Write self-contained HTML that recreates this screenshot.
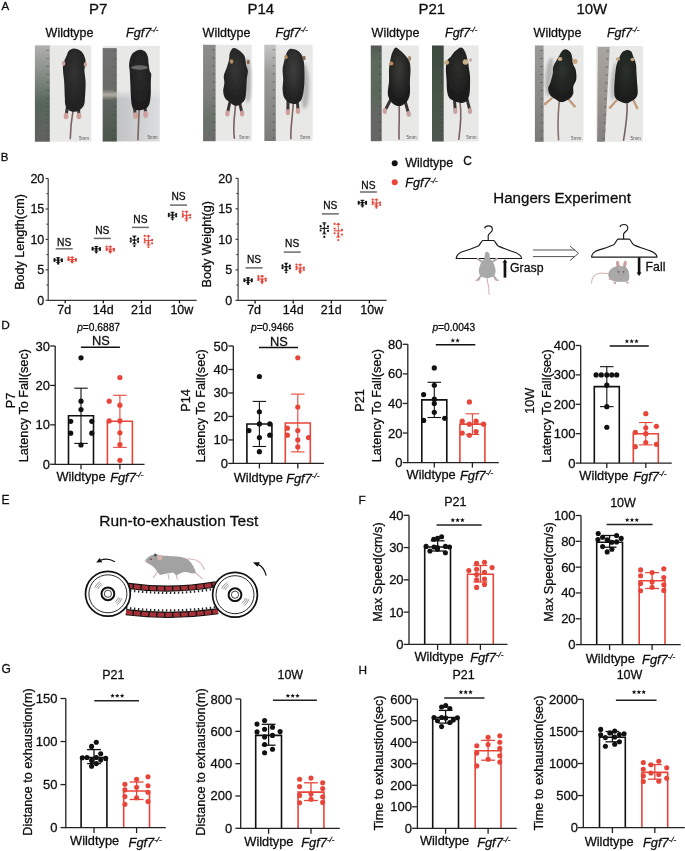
<!DOCTYPE html>
<html><head><meta charset="utf-8"><style>
html,body{margin:0;padding:0;background:#fff;}
svg{display:block;will-change:transform;}
text{font-family:"Liberation Sans",sans-serif;stroke:#0e0e0e;stroke-width:0.28px;}
</style></head><body>
<svg width="685" height="851" viewBox="0 0 685 851" font-family="Liberation Sans, sans-serif">
<rect width="685" height="851" fill="#fff"/>
<defs><filter id="soft" x="-5%" y="-5%" width="110%" height="110%"><feGaussianBlur stdDeviation="0.45"/></filter></defs>
<text x="1.50" y="9.60" font-size="11.5" text-anchor="start" fill="#0e0e0e" style="">A</text>
<text x="98.30" y="14.10" font-size="15" text-anchor="middle" fill="#0e0e0e" style="">P7</text>
<text x="260.80" y="14.10" font-size="15" text-anchor="middle" fill="#0e0e0e" style="">P14</text>
<text x="431.80" y="14.10" font-size="15" text-anchor="middle" fill="#0e0e0e" style="">P21</text>
<text x="591.80" y="14.10" font-size="15" text-anchor="middle" fill="#0e0e0e" style="">10W</text>
<text x="45.60" y="37.00" font-size="12.5" text-anchor="start" fill="#0e0e0e" style="">Wildtype</text>
<text x="126.10" y="37.00" font-size="12.5" text-anchor="start" fill="#0e0e0e" style="font-style:italic">Fgf7<tspan font-size="7.75" dy="-4.75">-/-</tspan></text>
<text x="202.60" y="37.00" font-size="12.5" text-anchor="start" fill="#0e0e0e" style="">Wildtype</text>
<text x="275.50" y="37.00" font-size="12.5" text-anchor="start" fill="#0e0e0e" style="font-style:italic">Fgf7<tspan font-size="7.75" dy="-4.75">-/-</tspan></text>
<text x="371.60" y="37.00" font-size="12.5" text-anchor="start" fill="#0e0e0e" style="">Wildtype</text>
<text x="445.00" y="37.00" font-size="12.5" text-anchor="start" fill="#0e0e0e" style="font-style:italic">Fgf7<tspan font-size="7.75" dy="-4.75">-/-</tspan></text>
<text x="533.60" y="37.00" font-size="12.5" text-anchor="start" fill="#0e0e0e" style="">Wildtype</text>
<text x="606.90" y="37.00" font-size="12.5" text-anchor="start" fill="#0e0e0e" style="font-style:italic">Fgf7<tspan font-size="7.75" dy="-4.75">-/-</tspan></text>
<defs><linearGradient id="g34" x1="0" y1="0" x2="0" y2="1"><stop offset="0" stop-color="#b0b0ae"/><stop offset="0.35" stop-color="#7d867e"/><stop offset="0.6" stop-color="#56665a"/><stop offset="1" stop-color="#62625f"/></linearGradient><linearGradient id="sg34" x1="0" y1="0" x2="1" y2="0"><stop offset="0" stop-color="#b9babc"/><stop offset="1" stop-color="#dcdddf"/></linearGradient><filter id="fg34" x="-50%" y="-50%" width="200%" height="200%"><feGaussianBlur stdDeviation="1.6"/></filter></defs>
<g filter="url(#soft)">
<rect x="34.90" y="45.40" width="56.40" height="96.30" fill="#e8e8e6"/>
<rect x="34.90" y="45.40" width="14.90" height="96.30" fill="url(#g34)"/>
<line x1="46.60" y1="50.40" x2="49.00" y2="50.40" stroke="#3a3a3a" stroke-width="0.5"/>
<line x1="46.60" y1="58.43" x2="49.00" y2="58.43" stroke="#3a3a3a" stroke-width="0.5"/>
<line x1="46.60" y1="66.45" x2="49.00" y2="66.45" stroke="#3a3a3a" stroke-width="0.5"/>
<line x1="46.60" y1="74.48" x2="49.00" y2="74.48" stroke="#3a3a3a" stroke-width="0.5"/>
<line x1="46.60" y1="82.51" x2="49.00" y2="82.51" stroke="#3a3a3a" stroke-width="0.5"/>
<line x1="46.60" y1="90.54" x2="49.00" y2="90.54" stroke="#3a3a3a" stroke-width="0.5"/>
<line x1="46.60" y1="98.56" x2="49.00" y2="98.56" stroke="#3a3a3a" stroke-width="0.5"/>
<line x1="46.60" y1="106.59" x2="49.00" y2="106.59" stroke="#3a3a3a" stroke-width="0.5"/>
<line x1="46.60" y1="114.62" x2="49.00" y2="114.62" stroke="#3a3a3a" stroke-width="0.5"/>
<line x1="46.60" y1="122.65" x2="49.00" y2="122.65" stroke="#3a3a3a" stroke-width="0.5"/>
<line x1="46.60" y1="130.67" x2="49.00" y2="130.67" stroke="#3a3a3a" stroke-width="0.5"/>
<line x1="46.60" y1="138.70" x2="49.00" y2="138.70" stroke="#3a3a3a" stroke-width="0.5"/>
<path d="M73.00 111.00 Q70.60 124.00 70.30 138.60" fill="none" stroke="#7a6260" stroke-width="1.6" stroke-linecap="round"/>
<path d="M67.50 106.00 L66.10 116.00" stroke="#3b3333" stroke-width="3" stroke-linecap="round"/>
<ellipse cx="66.10" cy="116.00" rx="2.4" ry="3.2" fill="#cf9f9c"/>
<path d="M78.50 106.00 L78.90 116.00" stroke="#3b3333" stroke-width="3" stroke-linecap="round"/>
<ellipse cx="78.90" cy="116.00" rx="2.4" ry="3.2" fill="#cf9f9c"/>
<defs><radialGradient id="rg34" cx="0.5" cy="0.38" r="0.55"><stop offset="0" stop-color="#333333"/><stop offset="1" stop-color="#222222"/></radialGradient></defs>
<path d="M74.00 48.40 C76.03 48.50 79.47 49.62 81.30 51.20 C83.13 52.78 84.28 55.67 85.00 57.90 C85.72 60.13 85.70 62.57 85.60 64.60 C85.50 66.63 84.40 67.15 84.40 70.10 C84.40 73.05 85.50 77.82 85.60 82.30 C85.70 86.78 85.30 93.12 85.00 97.00 C84.70 100.88 84.82 103.35 83.80 105.60 C82.78 107.85 80.53 109.48 78.90 110.50 C77.27 111.52 75.63 111.70 74.00 111.70 C72.37 111.70 70.52 111.52 69.10 110.50 C67.68 109.48 66.22 107.85 65.50 105.60 C64.78 103.35 65.02 100.88 64.80 97.00 C64.58 93.12 64.50 86.78 64.20 82.30 C63.90 77.82 63.12 73.32 63.00 70.10 C62.88 66.88 62.88 65.45 63.50 63.00 C64.12 60.55 65.77 57.47 66.70 55.40 C67.63 53.33 67.88 51.77 69.10 50.60 C70.32 49.43 71.97 48.30 74.00 48.40 Z" fill="url(#rg34)"/>
<ellipse cx="63.60" cy="63.50" rx="1.8" ry="2.4" fill="#caa09a"/>
<ellipse cx="85.40" cy="64.50" rx="1.7" ry="2.3" fill="#caa09a"/>
<text x="89.10" y="139.50" font-size="4.6" text-anchor="end" fill="#555" style="stroke:none">5mm</text>
</g>
<defs><linearGradient id="g102" x1="0" y1="0" x2="0" y2="1"><stop offset="0" stop-color="#727272"/><stop offset="0.44" stop-color="#6a6a66"/><stop offset="0.5" stop-color="#b0aea4"/><stop offset="0.56" stop-color="#5e645e"/><stop offset="1" stop-color="#4c574c"/></linearGradient><linearGradient id="sg102" x1="0" y1="0" x2="1" y2="0"><stop offset="0" stop-color="#b9babc"/><stop offset="1" stop-color="#dcdddf"/></linearGradient><filter id="fg102" x="-50%" y="-50%" width="200%" height="200%"><feGaussianBlur stdDeviation="1.6"/></filter></defs>
<g filter="url(#soft)">
<rect x="102.70" y="45.80" width="57.10" height="95.70" fill="#e8e8e6"/>
<defs><linearGradient id="vg102" x1="0" y1="0" x2="0" y2="1"><stop offset="0" stop-color="#fff" stop-opacity="0"/><stop offset="0.18" stop-color="#fff" stop-opacity="1"/><stop offset="1" stop-color="#fff" stop-opacity="1"/></linearGradient><mask id="mg102"><rect x="102.70" y="89.82" width="57.10" height="51.68" fill="url(#vg102)"/></mask></defs>
<rect x="102.70" y="89.82" width="57.10" height="51.68" fill="url(#sg102)" mask="url(#mg102)"/>
<rect x="102.70" y="48.10" width="14.10" height="93.40" fill="url(#g102)"/>
<line x1="113.60" y1="50.80" x2="116.00" y2="50.80" stroke="#3a3a3a" stroke-width="0.5"/>
<line x1="113.60" y1="58.77" x2="116.00" y2="58.77" stroke="#3a3a3a" stroke-width="0.5"/>
<line x1="113.60" y1="66.75" x2="116.00" y2="66.75" stroke="#3a3a3a" stroke-width="0.5"/>
<line x1="113.60" y1="74.72" x2="116.00" y2="74.72" stroke="#3a3a3a" stroke-width="0.5"/>
<line x1="113.60" y1="82.69" x2="116.00" y2="82.69" stroke="#3a3a3a" stroke-width="0.5"/>
<line x1="113.60" y1="90.66" x2="116.00" y2="90.66" stroke="#3a3a3a" stroke-width="0.5"/>
<line x1="113.60" y1="98.64" x2="116.00" y2="98.64" stroke="#3a3a3a" stroke-width="0.5"/>
<line x1="113.60" y1="106.61" x2="116.00" y2="106.61" stroke="#3a3a3a" stroke-width="0.5"/>
<line x1="113.60" y1="114.58" x2="116.00" y2="114.58" stroke="#3a3a3a" stroke-width="0.5"/>
<line x1="113.60" y1="122.55" x2="116.00" y2="122.55" stroke="#3a3a3a" stroke-width="0.5"/>
<line x1="113.60" y1="130.53" x2="116.00" y2="130.53" stroke="#3a3a3a" stroke-width="0.5"/>
<line x1="113.60" y1="138.50" x2="116.00" y2="138.50" stroke="#3a3a3a" stroke-width="0.5"/>
<path d="M139.10 110.00 Q138.50 124.00 137.90 139.70" fill="none" stroke="#7a6260" stroke-width="1.6" stroke-linecap="round"/>
<path d="M134.00 106.00 L135.60 115.60" stroke="#3b3333" stroke-width="3" stroke-linecap="round"/>
<ellipse cx="135.60" cy="115.60" rx="2.4" ry="3.4" fill="#cf9f9c"/>
<path d="M145.00 106.00 L145.60 114.50" stroke="#3b3333" stroke-width="3" stroke-linecap="round"/>
<ellipse cx="145.60" cy="114.50" rx="2.4" ry="3.4" fill="#cf9f9c"/>
<defs><radialGradient id="rg102" cx="0.5" cy="0.38" r="0.55"><stop offset="0" stop-color="#2c2c2c"/><stop offset="1" stop-color="#1e1e1e"/></radialGradient></defs>
<path d="M139.10 49.90 C141.07 49.70 143.53 50.43 145.00 51.60 C146.47 52.77 147.32 55.03 147.90 56.90 C148.48 58.77 148.20 60.45 148.50 62.80 C148.80 65.15 149.25 69.13 149.70 71.00 C150.15 72.87 151.02 72.03 151.20 74.00 C151.38 75.97 150.87 79.58 150.80 82.80 C150.73 86.02 150.98 89.98 150.80 93.30 C150.62 96.62 150.28 100.35 149.70 102.70 C149.12 105.05 148.48 106.22 147.30 107.40 C146.12 108.58 143.97 109.32 142.60 109.80 C141.23 110.28 140.27 110.30 139.10 110.30 C137.93 110.30 136.77 110.48 135.60 109.80 C134.43 109.12 132.88 108.37 132.10 106.20 C131.32 104.03 131.20 100.70 130.90 96.80 C130.60 92.90 130.50 87.10 130.30 82.80 C130.10 78.50 129.90 73.95 129.70 71.00 C129.50 68.05 129.00 67.25 129.10 65.10 C129.20 62.95 129.62 60.15 130.30 58.10 C130.98 56.05 131.73 54.17 133.20 52.80 C134.67 51.43 137.13 50.10 139.10 49.90 Z" fill="url(#rg102)"/>
<ellipse cx="139.50" cy="67.50" rx="8.50" ry="2.2" fill="#9a9692" opacity="0.6"/>
<text x="157.60" y="139.30" font-size="4.6" text-anchor="end" fill="#555" style="stroke:none">5mm</text>
</g>
<defs><linearGradient id="g203" x1="0" y1="0" x2="0" y2="1"><stop offset="0" stop-color="#8c8c8a"/><stop offset="0.5" stop-color="#7e7e7c"/><stop offset="0.75" stop-color="#6a726a"/><stop offset="1" stop-color="#6c6c6a"/></linearGradient><linearGradient id="sg203" x1="0" y1="0" x2="1" y2="0"><stop offset="0" stop-color="#b9babc"/><stop offset="1" stop-color="#dcdddf"/></linearGradient><filter id="fg203" x="-50%" y="-50%" width="200%" height="200%"><feGaussianBlur stdDeviation="1.6"/></filter></defs>
<g filter="url(#soft)">
<rect x="203.10" y="44.80" width="48.60" height="96.40" fill="#e8e8e6"/>
<rect x="203.10" y="44.80" width="12.50" height="96.40" fill="url(#g203)"/>
<line x1="212.40" y1="49.80" x2="214.80" y2="49.80" stroke="#3a3a3a" stroke-width="0.5"/>
<line x1="212.40" y1="57.84" x2="214.80" y2="57.84" stroke="#3a3a3a" stroke-width="0.5"/>
<line x1="212.40" y1="65.87" x2="214.80" y2="65.87" stroke="#3a3a3a" stroke-width="0.5"/>
<line x1="212.40" y1="73.91" x2="214.80" y2="73.91" stroke="#3a3a3a" stroke-width="0.5"/>
<line x1="212.40" y1="81.95" x2="214.80" y2="81.95" stroke="#3a3a3a" stroke-width="0.5"/>
<line x1="212.40" y1="89.98" x2="214.80" y2="89.98" stroke="#3a3a3a" stroke-width="0.5"/>
<line x1="212.40" y1="98.02" x2="214.80" y2="98.02" stroke="#3a3a3a" stroke-width="0.5"/>
<line x1="212.40" y1="106.05" x2="214.80" y2="106.05" stroke="#3a3a3a" stroke-width="0.5"/>
<line x1="212.40" y1="114.09" x2="214.80" y2="114.09" stroke="#3a3a3a" stroke-width="0.5"/>
<line x1="212.40" y1="122.13" x2="214.80" y2="122.13" stroke="#3a3a3a" stroke-width="0.5"/>
<line x1="212.40" y1="130.16" x2="214.80" y2="130.16" stroke="#3a3a3a" stroke-width="0.5"/>
<line x1="212.40" y1="138.20" x2="214.80" y2="138.20" stroke="#3a3a3a" stroke-width="0.5"/>
<path d="M246.00 60.00 C246.67 54.17 249.17 61.67 250.00 65.00 C250.83 68.33 251.00 74.50 251.00 80.00 C251.00 85.50 250.83 94.67 250.00 98.00 C249.17 101.33 246.67 106.33 246.00 100.00 C245.33 93.67 245.33 65.83 246.00 60.00 Z" fill="#b4b4b4" filter="url(#fg203)"/>
<path d="M235.60 105.00 C234.40 117.00 232.60 128.70 234.40 138.10" fill="none" stroke="#7a6260" stroke-width="1.6" stroke-linecap="round"/>
<path d="M229.70 103.00 L227.40 113.40" stroke="#3b3333" stroke-width="3" stroke-linecap="round"/>
<ellipse cx="227.40" cy="113.40" rx="2.2" ry="3" fill="#cf9f9c"/>
<path d="M239.70 103.00 L242.10 113.40" stroke="#3b3333" stroke-width="3" stroke-linecap="round"/>
<ellipse cx="242.10" cy="113.40" rx="2.2" ry="3" fill="#cf9f9c"/>
<defs><radialGradient id="rg203" cx="0.5" cy="0.38" r="0.55"><stop offset="0" stop-color="#363636"/><stop offset="1" stop-color="#202020"/></radialGradient></defs>
<path d="M233.20 48.10 C234.67 47.52 236.63 48.62 238.50 49.90 C240.37 51.18 243.12 53.25 244.40 55.80 C245.68 58.35 245.62 62.65 246.20 65.20 C246.78 67.75 247.80 68.75 247.90 71.10 C248.00 73.45 247.08 75.97 246.80 79.30 C246.52 82.63 246.50 87.77 246.20 91.10 C245.90 94.43 245.88 97.15 245.00 99.30 C244.12 101.45 242.47 102.92 240.90 104.00 C239.33 105.08 237.37 106.00 235.60 105.80 C233.83 105.60 232.07 104.08 230.30 102.80 C228.53 101.52 226.18 100.05 225.00 98.10 C223.82 96.15 223.30 93.65 223.20 91.10 C223.10 88.55 224.30 85.35 224.40 82.80 C224.50 80.25 223.40 78.35 223.80 75.80 C224.20 73.25 225.92 70.25 226.80 67.50 C227.68 64.75 228.62 61.65 229.10 59.30 C229.58 56.95 229.02 55.27 229.70 53.40 C230.38 51.53 231.73 48.68 233.20 48.10 Z" fill="url(#rg203)"/>
<ellipse cx="231.50" cy="61.50" rx="1.8" ry="2.2" fill="#b78c5e"/>
<ellipse cx="248.30" cy="62.00" rx="1.6" ry="2.2" fill="#8a6a58"/>
<text x="249.50" y="139.00" font-size="4.6" text-anchor="end" fill="#555" style="stroke:none">5mm</text>
</g>
<defs><linearGradient id="g264" x1="0" y1="0" x2="0" y2="1"><stop offset="0" stop-color="#c4c4c2"/><stop offset="0.3" stop-color="#9a9a98"/><stop offset="1" stop-color="#7a7a78"/></linearGradient><linearGradient id="sg264" x1="0" y1="0" x2="1" y2="0"><stop offset="0" stop-color="#b9babc"/><stop offset="1" stop-color="#dcdddf"/></linearGradient><filter id="fg264" x="-50%" y="-50%" width="200%" height="200%"><feGaussianBlur stdDeviation="1.6"/></filter></defs>
<g filter="url(#soft)">
<rect x="264.40" y="44.80" width="48.20" height="96.20" fill="#e8e8e6"/>
<rect x="264.40" y="44.80" width="11.40" height="96.20" fill="url(#g264)"/>
<line x1="272.60" y1="49.80" x2="275.00" y2="49.80" stroke="#3a3a3a" stroke-width="0.5"/>
<line x1="272.60" y1="57.82" x2="275.00" y2="57.82" stroke="#3a3a3a" stroke-width="0.5"/>
<line x1="272.60" y1="65.84" x2="275.00" y2="65.84" stroke="#3a3a3a" stroke-width="0.5"/>
<line x1="272.60" y1="73.85" x2="275.00" y2="73.85" stroke="#3a3a3a" stroke-width="0.5"/>
<line x1="272.60" y1="81.87" x2="275.00" y2="81.87" stroke="#3a3a3a" stroke-width="0.5"/>
<line x1="272.60" y1="89.89" x2="275.00" y2="89.89" stroke="#3a3a3a" stroke-width="0.5"/>
<line x1="272.60" y1="97.91" x2="275.00" y2="97.91" stroke="#3a3a3a" stroke-width="0.5"/>
<line x1="272.60" y1="105.93" x2="275.00" y2="105.93" stroke="#3a3a3a" stroke-width="0.5"/>
<line x1="272.60" y1="113.95" x2="275.00" y2="113.95" stroke="#3a3a3a" stroke-width="0.5"/>
<line x1="272.60" y1="121.96" x2="275.00" y2="121.96" stroke="#3a3a3a" stroke-width="0.5"/>
<line x1="272.60" y1="129.98" x2="275.00" y2="129.98" stroke="#3a3a3a" stroke-width="0.5"/>
<line x1="272.60" y1="138.00" x2="275.00" y2="138.00" stroke="#3a3a3a" stroke-width="0.5"/>
<path d="M303.00 65.00 C304.00 59.67 307.00 67.83 308.00 72.00 C309.00 76.17 309.17 84.33 309.00 90.00 C308.83 95.67 308.17 103.67 307.00 106.00 C305.83 108.33 302.67 110.83 302.00 104.00 C301.33 97.17 302.00 70.33 303.00 65.00 Z" fill="#b4b4b4" filter="url(#fg264)"/>
<path d="M293.20 103.50 C292.60 117.00 290.30 128.70 290.90 138.70" fill="none" stroke="#7a6260" stroke-width="1.6" stroke-linecap="round"/>
<path d="M288.00 101.00 L287.90 112.20" stroke="#3b3333" stroke-width="3" stroke-linecap="round"/>
<ellipse cx="287.90" cy="112.20" rx="2.2" ry="3" fill="#cf9f9c"/>
<path d="M297.40 101.00 L298.00 111.00" stroke="#3b3333" stroke-width="3" stroke-linecap="round"/>
<ellipse cx="298.00" cy="111.00" rx="2.2" ry="3" fill="#cf9f9c"/>
<defs><radialGradient id="rg264" cx="0.5" cy="0.38" r="0.55"><stop offset="0" stop-color="#3e3e3e"/><stop offset="1" stop-color="#222222"/></radialGradient></defs>
<path d="M291.50 48.70 C292.98 48.80 295.73 49.52 297.40 50.50 C299.07 51.48 300.43 52.75 301.50 54.60 C302.57 56.45 303.32 58.85 303.80 61.60 C304.28 64.35 304.30 67.57 304.40 71.10 C304.50 74.63 304.60 79.08 304.40 82.80 C304.20 86.52 303.78 90.45 303.20 93.40 C302.62 96.35 301.97 98.83 300.90 100.50 C299.83 102.17 298.08 102.82 296.80 103.40 C295.52 103.98 294.48 104.10 293.20 104.00 C291.92 103.90 290.57 103.78 289.10 102.80 C287.63 101.82 285.48 100.25 284.40 98.10 C283.32 95.95 282.80 93.03 282.60 89.90 C282.40 86.77 283.20 82.63 283.20 79.30 C283.20 75.97 282.50 72.65 282.60 69.90 C282.70 67.15 283.20 65.45 283.80 62.80 C284.40 60.15 285.42 56.15 286.20 54.00 C286.98 51.85 287.62 50.78 288.50 49.90 C289.38 49.02 290.02 48.60 291.50 48.70 Z" fill="url(#rg264)"/>
<ellipse cx="286.00" cy="57.00" rx="1.8" ry="2" fill="#b78c5e"/>
<ellipse cx="304.00" cy="58.00" rx="1.7" ry="2.2" fill="#8a6a58"/>
<text x="310.40" y="138.80" font-size="4.6" text-anchor="end" fill="#555" style="stroke:none">5mm</text>
</g>
<defs><linearGradient id="g370" x1="0" y1="0" x2="0" y2="1"><stop offset="0" stop-color="#545955"/><stop offset="0.15" stop-color="#5b6a5c"/><stop offset="0.5" stop-color="#5a685b"/><stop offset="0.7" stop-color="#646664"/><stop offset="1" stop-color="#666"/></linearGradient><linearGradient id="sg370" x1="0" y1="0" x2="1" y2="0"><stop offset="0" stop-color="#b9babc"/><stop offset="1" stop-color="#dcdddf"/></linearGradient><filter id="fg370" x="-50%" y="-50%" width="200%" height="200%"><feGaussianBlur stdDeviation="1.6"/></filter></defs>
<g filter="url(#soft)">
<rect x="370.80" y="45.50" width="48.10" height="95.70" fill="#e8e8e6"/>
<rect x="370.80" y="45.50" width="10.90" height="95.70" fill="url(#g370)"/>
<line x1="378.50" y1="50.50" x2="380.90" y2="50.50" stroke="#3a3a3a" stroke-width="0.5"/>
<line x1="378.50" y1="58.47" x2="380.90" y2="58.47" stroke="#3a3a3a" stroke-width="0.5"/>
<line x1="378.50" y1="66.45" x2="380.90" y2="66.45" stroke="#3a3a3a" stroke-width="0.5"/>
<line x1="378.50" y1="74.42" x2="380.90" y2="74.42" stroke="#3a3a3a" stroke-width="0.5"/>
<line x1="378.50" y1="82.39" x2="380.90" y2="82.39" stroke="#3a3a3a" stroke-width="0.5"/>
<line x1="378.50" y1="90.36" x2="380.90" y2="90.36" stroke="#3a3a3a" stroke-width="0.5"/>
<line x1="378.50" y1="98.34" x2="380.90" y2="98.34" stroke="#3a3a3a" stroke-width="0.5"/>
<line x1="378.50" y1="106.31" x2="380.90" y2="106.31" stroke="#3a3a3a" stroke-width="0.5"/>
<line x1="378.50" y1="114.28" x2="380.90" y2="114.28" stroke="#3a3a3a" stroke-width="0.5"/>
<line x1="378.50" y1="122.25" x2="380.90" y2="122.25" stroke="#3a3a3a" stroke-width="0.5"/>
<line x1="378.50" y1="130.23" x2="380.90" y2="130.23" stroke="#3a3a3a" stroke-width="0.5"/>
<line x1="378.50" y1="138.20" x2="380.90" y2="138.20" stroke="#3a3a3a" stroke-width="0.5"/>
<path d="M399.10 105.50 C399.70 119.80 398.50 131.80 399.10 139.00" fill="none" stroke="#7a6260" stroke-width="1.6" stroke-linecap="round"/>
<path d="M390.50 100.00 L384.80 110.90" stroke="#3b3333" stroke-width="3" stroke-linecap="round"/>
<ellipse cx="384.80" cy="110.90" rx="2.2" ry="3" fill="#c8a4a0"/>
<path d="M405.00 101.00 L408.70 113.90" stroke="#3b3333" stroke-width="3" stroke-linecap="round"/>
<ellipse cx="408.70" cy="113.90" rx="2.2" ry="3" fill="#c8a4a0"/>
<defs><radialGradient id="rg370" cx="0.5" cy="0.38" r="0.55"><stop offset="0" stop-color="#3a3a36"/><stop offset="1" stop-color="#1c1c1c"/></radialGradient></defs>
<path d="M396.10 47.40 C397.30 47.60 399.40 49.70 400.90 51.00 C402.40 52.30 403.70 53.50 405.10 55.20 C406.50 56.90 408.40 58.82 409.30 61.20 C410.20 63.58 410.40 66.12 410.50 69.50 C410.60 72.88 410.00 77.50 409.90 81.50 C409.80 85.50 410.30 90.30 409.90 93.50 C409.50 96.70 408.70 98.80 407.50 100.70 C406.30 102.60 404.10 104.00 402.70 104.90 C401.30 105.80 400.40 106.10 399.10 106.10 C397.80 106.10 396.38 105.80 394.90 104.90 C393.42 104.00 391.38 102.60 390.20 100.70 C389.02 98.80 388.00 96.70 387.80 93.50 C387.60 90.30 388.80 85.50 389.00 81.50 C389.20 77.50 388.83 72.67 389.00 69.50 C389.17 66.33 389.60 64.88 390.00 62.50 C390.40 60.12 390.78 57.32 391.40 55.20 C392.02 53.08 392.92 51.10 393.70 49.80 C394.48 48.50 394.90 47.20 396.10 47.40 Z" fill="url(#rg370)"/>
<ellipse cx="391.30" cy="63.50" rx="2" ry="2" fill="#b78c5e"/>
<ellipse cx="409.60" cy="58.50" rx="1.6" ry="2.4" fill="#a88a70"/>
<text x="416.70" y="139.00" font-size="4.6" text-anchor="end" fill="#555" style="stroke:none">5mm</text>
</g>
<defs><linearGradient id="g432" x1="0" y1="0" x2="0" y2="1"><stop offset="0" stop-color="#3e4a40"/><stop offset="0.5" stop-color="#465446"/><stop offset="1" stop-color="#505850"/></linearGradient><linearGradient id="sg432" x1="0" y1="0" x2="1" y2="0"><stop offset="0" stop-color="#b9babc"/><stop offset="1" stop-color="#dcdddf"/></linearGradient><filter id="fg432" x="-50%" y="-50%" width="200%" height="200%"><feGaussianBlur stdDeviation="1.6"/></filter></defs>
<g filter="url(#soft)">
<rect x="432.00" y="45.50" width="46.70" height="96.00" fill="#e8e8e6"/>
<rect x="432.00" y="45.50" width="11.70" height="96.00" fill="url(#g432)"/>
<line x1="440.50" y1="50.50" x2="442.90" y2="50.50" stroke="#3a3a3a" stroke-width="0.5"/>
<line x1="440.50" y1="58.50" x2="442.90" y2="58.50" stroke="#3a3a3a" stroke-width="0.5"/>
<line x1="440.50" y1="66.50" x2="442.90" y2="66.50" stroke="#3a3a3a" stroke-width="0.5"/>
<line x1="440.50" y1="74.50" x2="442.90" y2="74.50" stroke="#3a3a3a" stroke-width="0.5"/>
<line x1="440.50" y1="82.50" x2="442.90" y2="82.50" stroke="#3a3a3a" stroke-width="0.5"/>
<line x1="440.50" y1="90.50" x2="442.90" y2="90.50" stroke="#3a3a3a" stroke-width="0.5"/>
<line x1="440.50" y1="98.50" x2="442.90" y2="98.50" stroke="#3a3a3a" stroke-width="0.5"/>
<line x1="440.50" y1="106.50" x2="442.90" y2="106.50" stroke="#3a3a3a" stroke-width="0.5"/>
<line x1="440.50" y1="114.50" x2="442.90" y2="114.50" stroke="#3a3a3a" stroke-width="0.5"/>
<line x1="440.50" y1="122.50" x2="442.90" y2="122.50" stroke="#3a3a3a" stroke-width="0.5"/>
<line x1="440.50" y1="130.50" x2="442.90" y2="130.50" stroke="#3a3a3a" stroke-width="0.5"/>
<line x1="440.50" y1="138.50" x2="442.90" y2="138.50" stroke="#3a3a3a" stroke-width="0.5"/>
<path d="M460.00 102.50 C461.80 114.60 460.60 126.40 458.80 139.30" fill="none" stroke="#7a6260" stroke-width="1.6" stroke-linecap="round"/>
<path d="M454.50 100.00 L455.30 111.00" stroke="#3b3333" stroke-width="3" stroke-linecap="round"/>
<ellipse cx="455.30" cy="111.00" rx="2.2" ry="3" fill="#c8a4a0"/>
<path d="M467.00 99.00 L470.00 111.00" stroke="#3b3333" stroke-width="3" stroke-linecap="round"/>
<ellipse cx="470.00" cy="111.00" rx="2.2" ry="3" fill="#c8a4a0"/>
<defs><radialGradient id="rg432" cx="0.5" cy="0.38" r="0.55"><stop offset="0" stop-color="#2e2e2c"/><stop offset="1" stop-color="#1c1c1c"/></radialGradient></defs>
<path d="M461.20 47.50 C462.87 47.68 464.13 49.65 465.30 52.20 C466.47 54.75 467.62 60.25 468.20 62.80 C468.78 65.35 468.50 65.33 468.80 67.50 C469.10 69.67 469.80 72.65 470.00 75.80 C470.20 78.95 470.10 83.27 470.00 86.40 C469.90 89.53 469.88 92.25 469.40 94.60 C468.92 96.95 468.18 99.13 467.10 100.50 C466.02 101.87 464.08 102.42 462.90 102.80 C461.72 103.18 461.27 103.00 460.00 102.80 C458.73 102.60 457.07 102.38 455.30 101.60 C453.53 100.82 450.77 99.85 449.40 98.10 C448.03 96.35 447.58 94.23 447.10 91.10 C446.62 87.97 446.70 83.23 446.50 79.30 C446.30 75.37 445.73 70.72 445.90 67.50 C446.07 64.28 446.72 61.77 447.50 60.00 C448.28 58.23 449.30 58.38 450.60 56.90 C451.90 55.42 453.53 52.67 455.30 51.10 C457.07 49.53 459.53 47.32 461.20 47.50 Z" fill="url(#rg432)"/>
<ellipse cx="465.50" cy="62.00" rx="2.8" ry="2.8" fill="#c8b08c"/>
<ellipse cx="446.50" cy="62.50" rx="2.6" ry="2.2" fill="#c8b08c"/>
<ellipse cx="470.50" cy="60.00" rx="1.4" ry="1.8" fill="#caa09a"/>
<text x="476.50" y="139.30" font-size="4.6" text-anchor="end" fill="#555" style="stroke:none">5mm</text>
</g>
<defs><linearGradient id="g534" x1="0" y1="0" x2="0" y2="1"><stop offset="0" stop-color="#9a9a98"/><stop offset="0.5" stop-color="#8a8a88"/><stop offset="1" stop-color="#7a7a78"/></linearGradient><linearGradient id="sg534" x1="0" y1="0" x2="1" y2="0"><stop offset="0" stop-color="#b9babc"/><stop offset="1" stop-color="#dcdddf"/></linearGradient><filter id="fg534" x="-50%" y="-50%" width="200%" height="200%"><feGaussianBlur stdDeviation="1.6"/></filter></defs>
<g filter="url(#soft)">
<rect x="534.90" y="45.50" width="48.60" height="96.30" fill="#e8e8e6"/>
<rect x="534.90" y="45.50" width="8.70" height="96.30" fill="url(#g534)"/>
<line x1="540.40" y1="50.50" x2="542.80" y2="50.50" stroke="#3a3a3a" stroke-width="0.5"/>
<line x1="540.40" y1="58.53" x2="542.80" y2="58.53" stroke="#3a3a3a" stroke-width="0.5"/>
<line x1="540.40" y1="66.55" x2="542.80" y2="66.55" stroke="#3a3a3a" stroke-width="0.5"/>
<line x1="540.40" y1="74.58" x2="542.80" y2="74.58" stroke="#3a3a3a" stroke-width="0.5"/>
<line x1="540.40" y1="82.61" x2="542.80" y2="82.61" stroke="#3a3a3a" stroke-width="0.5"/>
<line x1="540.40" y1="90.64" x2="542.80" y2="90.64" stroke="#3a3a3a" stroke-width="0.5"/>
<line x1="540.40" y1="98.66" x2="542.80" y2="98.66" stroke="#3a3a3a" stroke-width="0.5"/>
<line x1="540.40" y1="106.69" x2="542.80" y2="106.69" stroke="#3a3a3a" stroke-width="0.5"/>
<line x1="540.40" y1="114.72" x2="542.80" y2="114.72" stroke="#3a3a3a" stroke-width="0.5"/>
<line x1="540.40" y1="122.75" x2="542.80" y2="122.75" stroke="#3a3a3a" stroke-width="0.5"/>
<line x1="540.40" y1="130.77" x2="542.80" y2="130.77" stroke="#3a3a3a" stroke-width="0.5"/>
<line x1="540.40" y1="138.80" x2="542.80" y2="138.80" stroke="#3a3a3a" stroke-width="0.5"/>
<path d="M548.00 62.00 C549.33 58.67 552.50 55.33 553.00 60.00 C553.50 64.67 552.00 84.00 551.00 90.00 C550.00 96.00 548.00 97.67 547.00 96.00 C546.00 94.33 544.83 85.67 545.00 80.00 C545.17 74.33 546.67 65.33 548.00 62.00 Z" fill="#b4b4b4" filter="url(#fg534)"/>
<path d="M559.20 101.50 C558.00 114.40 557.50 126.20 558.60 139.70" fill="none" stroke="#8a706a" stroke-width="1.6" stroke-linecap="round"/>
<path d="M551.60 98.50 L545.20 103.90" stroke="#c09878" stroke-width="2.2" stroke-linecap="round"/>
<ellipse cx="545.20" cy="103.90" rx="1.4" ry="1.4" fill="#c8a080"/>
<path d="M568.00 98.50 L574.50 106.20" stroke="#c09878" stroke-width="2.2" stroke-linecap="round"/>
<ellipse cx="574.50" cy="106.20" rx="1.4" ry="1.4" fill="#c8a080"/>
<defs><radialGradient id="rg534" cx="0.5" cy="0.38" r="0.55"><stop offset="0" stop-color="#2e332e"/><stop offset="1" stop-color="#1a1c1a"/></radialGradient></defs>
<path d="M565.70 49.30 C567.07 49.50 569.33 50.93 570.40 52.20 C571.47 53.47 571.62 54.85 572.10 56.90 C572.58 58.95 572.70 62.35 573.30 64.50 C573.90 66.65 575.20 67.35 575.70 69.80 C576.20 72.25 576.70 76.45 576.30 79.20 C575.90 81.95 573.80 83.95 573.30 86.30 C572.80 88.65 573.78 91.35 573.30 93.30 C572.82 95.25 571.87 96.63 570.40 98.00 C568.93 99.37 566.17 100.82 564.50 101.50 C562.83 102.18 561.77 102.38 560.40 102.10 C559.03 101.82 557.97 100.88 556.30 99.80 C554.63 98.72 551.77 97.47 550.40 95.60 C549.03 93.73 548.10 90.75 548.10 88.60 C548.10 86.45 549.62 85.25 550.40 82.70 C551.18 80.15 552.30 76.03 552.80 73.30 C553.30 70.57 552.33 69.23 553.40 66.30 C554.47 63.37 557.73 58.25 559.20 55.70 C560.67 53.15 561.12 52.07 562.20 51.00 C563.28 49.93 564.33 49.10 565.70 49.30 Z" fill="url(#rg534)"/>
<ellipse cx="560.00" cy="59.00" rx="2.3" ry="2.1" fill="#c8a880"/>
<ellipse cx="575.00" cy="61.50" rx="2.6" ry="2.4" fill="#c8a880"/>
<text x="581.30" y="139.60" font-size="4.6" text-anchor="end" fill="#555" style="stroke:none">5mm</text>
</g>
<defs><linearGradient id="g596" x1="0" y1="0" x2="0" y2="1"><stop offset="0" stop-color="#a8a4a0"/><stop offset="0.5" stop-color="#9a9590"/><stop offset="1" stop-color="#858080"/></linearGradient><linearGradient id="sg596" x1="0" y1="0" x2="1" y2="0"><stop offset="0" stop-color="#b9babc"/><stop offset="1" stop-color="#dcdddf"/></linearGradient><filter id="fg596" x="-50%" y="-50%" width="200%" height="200%"><feGaussianBlur stdDeviation="1.6"/></filter></defs>
<g filter="url(#soft)">
<rect x="596.20" y="46.00" width="46.80" height="95.80" fill="#e8e8e6"/>
<polygon points="597.8,47 609.8,47 604.8,141.8 597.2,141.8" fill="url(#g596)"/>
<line x1="606.39" y1="51.00" x2="608.79" y2="51.00" stroke="#3a3a3a" stroke-width="0.5"/>
<line x1="606.06" y1="58.98" x2="608.46" y2="58.98" stroke="#3a3a3a" stroke-width="0.5"/>
<line x1="605.72" y1="66.96" x2="608.12" y2="66.96" stroke="#3a3a3a" stroke-width="0.5"/>
<line x1="605.39" y1="74.95" x2="607.79" y2="74.95" stroke="#3a3a3a" stroke-width="0.5"/>
<line x1="605.06" y1="82.93" x2="607.46" y2="82.93" stroke="#3a3a3a" stroke-width="0.5"/>
<line x1="604.72" y1="90.91" x2="607.12" y2="90.91" stroke="#3a3a3a" stroke-width="0.5"/>
<line x1="604.39" y1="98.89" x2="606.79" y2="98.89" stroke="#3a3a3a" stroke-width="0.5"/>
<line x1="604.06" y1="106.87" x2="606.46" y2="106.87" stroke="#3a3a3a" stroke-width="0.5"/>
<line x1="603.73" y1="114.85" x2="606.13" y2="114.85" stroke="#3a3a3a" stroke-width="0.5"/>
<line x1="603.39" y1="122.84" x2="605.79" y2="122.84" stroke="#3a3a3a" stroke-width="0.5"/>
<line x1="603.06" y1="130.82" x2="605.46" y2="130.82" stroke="#3a3a3a" stroke-width="0.5"/>
<line x1="602.73" y1="138.80" x2="605.13" y2="138.80" stroke="#3a3a3a" stroke-width="0.5"/>
<path d="M616.00 62.00 C615.67 58.17 612.83 69.50 612.00 75.00 C611.17 80.50 610.67 91.17 611.00 95.00 C611.33 98.83 613.17 103.50 614.00 98.00 C614.83 92.50 616.33 65.83 616.00 62.00 Z" fill="#b4b4b4" filter="url(#fg596)"/>
<path d="M627.10 103.00 C627.70 114.40 625.90 126.20 623.60 140.20" fill="none" stroke="#7a6262" stroke-width="1.6" stroke-linecap="round"/>
<path d="M616.50 100.50 L610.10 107.40" stroke="#c09878" stroke-width="2.2" stroke-linecap="round"/>
<ellipse cx="610.10" cy="107.40" rx="1.4" ry="1.4" fill="#c8a080"/>
<path d="M633.60 100.50 L637.10 108.00" stroke="#c09878" stroke-width="2.2" stroke-linecap="round"/>
<ellipse cx="637.10" cy="108.00" rx="1.4" ry="1.4" fill="#c8a080"/>
<defs><radialGradient id="rg596" cx="0.5" cy="0.38" r="0.55"><stop offset="0" stop-color="#2c322c"/><stop offset="1" stop-color="#1a1d1a"/></radialGradient></defs>
<path d="M627.70 49.90 C629.07 49.90 630.32 50.63 631.20 51.60 C632.08 52.57 632.22 53.63 633.00 55.70 C633.78 57.77 635.32 61.07 635.90 64.00 C636.48 66.93 636.30 70.18 636.50 73.30 C636.70 76.42 636.90 79.37 637.10 82.70 C637.30 86.03 638.00 90.65 637.70 93.30 C637.40 95.95 636.58 97.13 635.30 98.60 C634.02 100.07 631.47 101.32 630.00 102.10 C628.53 102.88 627.97 103.30 626.50 103.30 C625.03 103.30 623.05 102.98 621.20 102.10 C619.35 101.22 616.57 99.85 615.40 98.00 C614.23 96.15 614.30 94.13 614.20 91.00 C614.10 87.87 614.50 83.12 614.80 79.20 C615.10 75.28 615.47 70.62 616.00 67.50 C616.53 64.38 617.42 62.27 618.00 60.50 C618.58 58.73 618.67 58.38 619.50 56.90 C620.33 55.42 621.63 52.77 623.00 51.60 C624.37 50.43 626.33 49.90 627.70 49.90 Z" fill="url(#rg596)"/>
<ellipse cx="618.00" cy="59.00" rx="2.2" ry="1.8" fill="#c0a078"/>
<ellipse cx="632.50" cy="59.50" rx="2" ry="1.8" fill="#c0a078"/>
<text x="640.80" y="139.60" font-size="4.6" text-anchor="end" fill="#555" style="stroke:none">5mm</text>
</g>
<text x="0.70" y="160.80" font-size="11.5" text-anchor="start" fill="#0e0e0e" style="">B</text>
<path d="M48.20 178.50 V300.30 H196.70" fill="none" stroke="#3a3a3a" stroke-width="1.15"/>
<line x1="45.60" y1="300.30" x2="48.20" y2="300.30" stroke="#3a3a3a" stroke-width="1.15"/>
<text x="44.30" y="304.70" font-size="12.5" text-anchor="end" fill="#0e0e0e" style="">0</text>
<line x1="45.60" y1="269.85" x2="48.20" y2="269.85" stroke="#3a3a3a" stroke-width="1.15"/>
<text x="44.30" y="274.25" font-size="12.5" text-anchor="end" fill="#0e0e0e" style="">5</text>
<line x1="45.60" y1="239.40" x2="48.20" y2="239.40" stroke="#3a3a3a" stroke-width="1.15"/>
<text x="44.30" y="243.80" font-size="12.5" text-anchor="end" fill="#0e0e0e" style="">10</text>
<line x1="45.60" y1="208.95" x2="48.20" y2="208.95" stroke="#3a3a3a" stroke-width="1.15"/>
<text x="44.30" y="213.35" font-size="12.5" text-anchor="end" fill="#0e0e0e" style="">15</text>
<line x1="45.60" y1="178.50" x2="48.20" y2="178.50" stroke="#3a3a3a" stroke-width="1.15"/>
<text x="44.30" y="182.90" font-size="12.5" text-anchor="end" fill="#0e0e0e" style="">20</text>
<line x1="46.40" y1="285.07" x2="48.20" y2="285.07" stroke="#3a3a3a" stroke-width="1.0"/>
<line x1="46.40" y1="254.62" x2="48.20" y2="254.62" stroke="#3a3a3a" stroke-width="1.0"/>
<line x1="46.40" y1="224.18" x2="48.20" y2="224.18" stroke="#3a3a3a" stroke-width="1.0"/>
<line x1="46.40" y1="193.73" x2="48.20" y2="193.73" stroke="#3a3a3a" stroke-width="1.0"/>
<line x1="65.20" y1="300.30" x2="65.20" y2="303.30" stroke="#111" stroke-width="1.3"/>
<text x="64.20" y="313.90" font-size="12.5" text-anchor="middle" fill="#0e0e0e" style="">7d</text>
<circle cx="54.50" cy="259.19" r="1.1" fill="#111"/>
<circle cx="54.50" cy="261.02" r="1.1" fill="#111"/>
<circle cx="58.20" cy="258.28" r="1.1" fill="#111"/>
<circle cx="58.20" cy="260.20" r="1.1" fill="#111"/>
<circle cx="58.20" cy="261.84" r="1.1" fill="#111"/>
<circle cx="58.20" cy="263.76" r="1.1" fill="#111"/>
<circle cx="61.90" cy="259.28" r="1.1" fill="#111"/>
<circle cx="61.90" cy="261.20" r="1.1" fill="#111"/>
<line x1="53.70" y1="260.11" x2="62.70" y2="260.11" stroke="#111" stroke-width="1.0"/>
<line x1="58.20" y1="257.73" x2="58.20" y2="262.48" stroke="#111" stroke-width="0.9"/>
<line x1="56.20" y1="257.73" x2="60.20" y2="257.73" stroke="#111" stroke-width="0.9"/>
<line x1="56.20" y1="262.48" x2="60.20" y2="262.48" stroke="#111" stroke-width="0.9"/>
<circle cx="68.50" cy="257.37" r="1.1" fill="#e8453a"/>
<circle cx="68.50" cy="258.81" r="1.1" fill="#e8453a"/>
<circle cx="68.50" cy="260.26" r="1.1" fill="#e8453a"/>
<circle cx="72.20" cy="257.37" r="1.1" fill="#e8453a"/>
<circle cx="72.20" cy="260.33" r="1.1" fill="#e8453a"/>
<circle cx="72.20" cy="261.17" r="1.1" fill="#e8453a"/>
<circle cx="72.20" cy="262.39" r="1.1" fill="#e8453a"/>
<circle cx="75.90" cy="259.19" r="1.1" fill="#e8453a"/>
<circle cx="75.90" cy="260.72" r="1.1" fill="#e8453a"/>
<line x1="67.70" y1="259.50" x2="76.70" y2="259.50" stroke="#e8453a" stroke-width="1.0"/>
<line x1="72.20" y1="257.52" x2="72.20" y2="261.48" stroke="#e8453a" stroke-width="0.9"/>
<line x1="70.20" y1="257.52" x2="74.20" y2="257.52" stroke="#e8453a" stroke-width="0.9"/>
<line x1="70.20" y1="261.48" x2="74.20" y2="261.48" stroke="#e8453a" stroke-width="0.9"/>
<line x1="55.70" y1="248.80" x2="72.70" y2="248.80" stroke="#6a6a6a" stroke-width="1.5"/>
<text x="64.20" y="245.80" font-size="10.2" text-anchor="middle" fill="#0e0e0e" style="">NS</text>
<line x1="103.30" y1="300.30" x2="103.30" y2="303.30" stroke="#111" stroke-width="1.3"/>
<text x="103.30" y="313.90" font-size="12.5" text-anchor="middle" fill="#0e0e0e" style="">14d</text>
<circle cx="92.60" cy="247.93" r="1.1" fill="#111"/>
<circle cx="92.60" cy="249.75" r="1.1" fill="#111"/>
<circle cx="96.30" cy="247.01" r="1.1" fill="#111"/>
<circle cx="96.30" cy="248.93" r="1.1" fill="#111"/>
<circle cx="96.30" cy="250.58" r="1.1" fill="#111"/>
<circle cx="96.30" cy="252.49" r="1.1" fill="#111"/>
<circle cx="100.00" cy="248.02" r="1.1" fill="#111"/>
<circle cx="100.00" cy="249.94" r="1.1" fill="#111"/>
<line x1="91.80" y1="248.84" x2="100.80" y2="248.84" stroke="#111" stroke-width="1.0"/>
<line x1="96.30" y1="246.46" x2="96.30" y2="251.21" stroke="#111" stroke-width="0.9"/>
<line x1="94.30" y1="246.46" x2="98.30" y2="246.46" stroke="#111" stroke-width="0.9"/>
<line x1="94.30" y1="251.21" x2="98.30" y2="251.21" stroke="#111" stroke-width="0.9"/>
<circle cx="106.60" cy="246.59" r="1.1" fill="#e8453a"/>
<circle cx="106.60" cy="248.32" r="1.1" fill="#e8453a"/>
<circle cx="106.60" cy="250.06" r="1.1" fill="#e8453a"/>
<circle cx="110.30" cy="246.59" r="1.1" fill="#e8453a"/>
<circle cx="110.30" cy="250.15" r="1.1" fill="#e8453a"/>
<circle cx="110.30" cy="251.15" r="1.1" fill="#e8453a"/>
<circle cx="110.30" cy="252.62" r="1.1" fill="#e8453a"/>
<circle cx="114.00" cy="248.78" r="1.1" fill="#e8453a"/>
<circle cx="114.00" cy="250.61" r="1.1" fill="#e8453a"/>
<line x1="105.80" y1="249.14" x2="114.80" y2="249.14" stroke="#e8453a" stroke-width="1.0"/>
<line x1="110.30" y1="246.77" x2="110.30" y2="251.52" stroke="#e8453a" stroke-width="0.9"/>
<line x1="108.30" y1="246.77" x2="112.30" y2="246.77" stroke="#e8453a" stroke-width="0.9"/>
<line x1="108.30" y1="251.52" x2="112.30" y2="251.52" stroke="#e8453a" stroke-width="0.9"/>
<line x1="93.80" y1="238.40" x2="110.80" y2="238.40" stroke="#6a6a6a" stroke-width="1.5"/>
<text x="102.30" y="234.30" font-size="10.2" text-anchor="middle" fill="#0e0e0e" style="">NS</text>
<line x1="141.40" y1="300.30" x2="141.40" y2="303.30" stroke="#111" stroke-width="1.3"/>
<text x="141.40" y="313.90" font-size="12.5" text-anchor="middle" fill="#0e0e0e" style="">21d</text>
<circle cx="130.70" cy="238.49" r="1.1" fill="#111"/>
<circle cx="130.70" cy="241.53" r="1.1" fill="#111"/>
<circle cx="134.40" cy="236.96" r="1.1" fill="#111"/>
<circle cx="134.40" cy="240.16" r="1.1" fill="#111"/>
<circle cx="134.40" cy="242.90" r="1.1" fill="#111"/>
<circle cx="134.40" cy="246.10" r="1.1" fill="#111"/>
<circle cx="138.10" cy="238.64" r="1.1" fill="#111"/>
<circle cx="138.10" cy="241.84" r="1.1" fill="#111"/>
<line x1="129.90" y1="240.01" x2="138.90" y2="240.01" stroke="#111" stroke-width="1.0"/>
<line x1="134.40" y1="236.05" x2="134.40" y2="243.97" stroke="#111" stroke-width="0.9"/>
<line x1="132.40" y1="236.05" x2="136.40" y2="236.05" stroke="#111" stroke-width="0.9"/>
<line x1="132.40" y1="243.97" x2="136.40" y2="243.97" stroke="#111" stroke-width="0.9"/>
<circle cx="144.70" cy="235.93" r="1.1" fill="#e8453a"/>
<circle cx="144.70" cy="239.11" r="1.1" fill="#e8453a"/>
<circle cx="144.70" cy="242.29" r="1.1" fill="#e8453a"/>
<circle cx="148.40" cy="235.93" r="1.1" fill="#e8453a"/>
<circle cx="148.40" cy="242.46" r="1.1" fill="#e8453a"/>
<circle cx="148.40" cy="244.30" r="1.1" fill="#e8453a"/>
<circle cx="148.40" cy="246.98" r="1.1" fill="#e8453a"/>
<circle cx="152.10" cy="239.95" r="1.1" fill="#e8453a"/>
<circle cx="152.10" cy="243.30" r="1.1" fill="#e8453a"/>
<line x1="143.90" y1="240.62" x2="152.90" y2="240.62" stroke="#e8453a" stroke-width="1.0"/>
<line x1="148.40" y1="236.26" x2="148.40" y2="244.97" stroke="#e8453a" stroke-width="0.9"/>
<line x1="146.40" y1="236.26" x2="150.40" y2="236.26" stroke="#e8453a" stroke-width="0.9"/>
<line x1="146.40" y1="244.97" x2="150.40" y2="244.97" stroke="#e8453a" stroke-width="0.9"/>
<line x1="131.90" y1="227.40" x2="148.90" y2="227.40" stroke="#6a6a6a" stroke-width="1.5"/>
<text x="140.40" y="223.20" font-size="10.2" text-anchor="middle" fill="#0e0e0e" style="">NS</text>
<line x1="179.50" y1="300.30" x2="179.50" y2="303.30" stroke="#111" stroke-width="1.3"/>
<text x="181.90" y="313.90" font-size="12.5" text-anchor="middle" fill="#0e0e0e" style="">10w</text>
<circle cx="168.80" cy="213.97" r="1.1" fill="#111"/>
<circle cx="168.80" cy="216.11" r="1.1" fill="#111"/>
<circle cx="172.50" cy="212.91" r="1.1" fill="#111"/>
<circle cx="172.50" cy="215.15" r="1.1" fill="#111"/>
<circle cx="172.50" cy="217.06" r="1.1" fill="#111"/>
<circle cx="172.50" cy="219.30" r="1.1" fill="#111"/>
<circle cx="176.20" cy="214.08" r="1.1" fill="#111"/>
<circle cx="176.20" cy="216.32" r="1.1" fill="#111"/>
<line x1="168.00" y1="215.04" x2="177.00" y2="215.04" stroke="#111" stroke-width="1.0"/>
<line x1="172.50" y1="212.27" x2="172.50" y2="217.81" stroke="#111" stroke-width="0.9"/>
<line x1="170.50" y1="212.27" x2="174.50" y2="212.27" stroke="#111" stroke-width="0.9"/>
<line x1="170.50" y1="217.81" x2="174.50" y2="217.81" stroke="#111" stroke-width="0.9"/>
<circle cx="182.80" cy="211.51" r="1.1" fill="#e8453a"/>
<circle cx="182.80" cy="214.11" r="1.1" fill="#e8453a"/>
<circle cx="182.80" cy="216.71" r="1.1" fill="#e8453a"/>
<circle cx="186.50" cy="211.51" r="1.1" fill="#e8453a"/>
<circle cx="186.50" cy="216.85" r="1.1" fill="#e8453a"/>
<circle cx="186.50" cy="218.36" r="1.1" fill="#e8453a"/>
<circle cx="186.50" cy="220.55" r="1.1" fill="#e8453a"/>
<circle cx="190.20" cy="214.80" r="1.1" fill="#e8453a"/>
<circle cx="190.20" cy="217.54" r="1.1" fill="#e8453a"/>
<line x1="182.00" y1="215.34" x2="191.00" y2="215.34" stroke="#e8453a" stroke-width="1.0"/>
<line x1="186.50" y1="211.78" x2="186.50" y2="218.91" stroke="#e8453a" stroke-width="0.9"/>
<line x1="184.50" y1="211.78" x2="188.50" y2="211.78" stroke="#e8453a" stroke-width="0.9"/>
<line x1="184.50" y1="218.91" x2="188.50" y2="218.91" stroke="#e8453a" stroke-width="0.9"/>
<line x1="170.00" y1="205.10" x2="187.00" y2="205.10" stroke="#6a6a6a" stroke-width="1.5"/>
<text x="178.50" y="199.60" font-size="10.2" text-anchor="middle" fill="#0e0e0e" style="">NS</text>
<text x="24.20" y="241.90" font-size="12.6" text-anchor="middle" fill="#0e0e0e" style="" transform="rotate(-90 24.2 241.9)">Body Length(cm)</text>
<path d="M238.10 178.30 V300.40 H386.60" fill="none" stroke="#3a3a3a" stroke-width="1.15"/>
<line x1="235.50" y1="300.40" x2="238.10" y2="300.40" stroke="#3a3a3a" stroke-width="1.15"/>
<text x="232.20" y="304.80" font-size="12.5" text-anchor="end" fill="#0e0e0e" style="">0</text>
<line x1="235.50" y1="269.88" x2="238.10" y2="269.88" stroke="#3a3a3a" stroke-width="1.15"/>
<text x="232.20" y="274.27" font-size="12.5" text-anchor="end" fill="#0e0e0e" style="">5</text>
<line x1="235.50" y1="239.35" x2="238.10" y2="239.35" stroke="#3a3a3a" stroke-width="1.15"/>
<text x="232.20" y="243.75" font-size="12.5" text-anchor="end" fill="#0e0e0e" style="">10</text>
<line x1="235.50" y1="208.82" x2="238.10" y2="208.82" stroke="#3a3a3a" stroke-width="1.15"/>
<text x="232.20" y="213.22" font-size="12.5" text-anchor="end" fill="#0e0e0e" style="">15</text>
<line x1="235.50" y1="178.30" x2="238.10" y2="178.30" stroke="#3a3a3a" stroke-width="1.15"/>
<text x="232.20" y="182.70" font-size="12.5" text-anchor="end" fill="#0e0e0e" style="">20</text>
<line x1="236.30" y1="285.14" x2="238.10" y2="285.14" stroke="#3a3a3a" stroke-width="1.0"/>
<line x1="236.30" y1="254.61" x2="238.10" y2="254.61" stroke="#3a3a3a" stroke-width="1.0"/>
<line x1="236.30" y1="224.09" x2="238.10" y2="224.09" stroke="#3a3a3a" stroke-width="1.0"/>
<line x1="236.30" y1="193.56" x2="238.10" y2="193.56" stroke="#3a3a3a" stroke-width="1.0"/>
<line x1="255.10" y1="300.40" x2="255.10" y2="303.40" stroke="#111" stroke-width="1.3"/>
<text x="254.10" y="314.00" font-size="12.5" text-anchor="middle" fill="#0e0e0e" style="">7d</text>
<circle cx="244.40" cy="279.34" r="1.1" fill="#111"/>
<circle cx="244.40" cy="281.17" r="1.1" fill="#111"/>
<circle cx="248.10" cy="278.42" r="1.1" fill="#111"/>
<circle cx="248.10" cy="280.35" r="1.1" fill="#111"/>
<circle cx="248.10" cy="281.99" r="1.1" fill="#111"/>
<circle cx="248.10" cy="283.92" r="1.1" fill="#111"/>
<circle cx="251.80" cy="279.43" r="1.1" fill="#111"/>
<circle cx="251.80" cy="281.35" r="1.1" fill="#111"/>
<line x1="243.60" y1="280.25" x2="252.60" y2="280.25" stroke="#111" stroke-width="1.0"/>
<line x1="248.10" y1="277.87" x2="248.10" y2="282.63" stroke="#111" stroke-width="0.9"/>
<line x1="246.10" y1="277.87" x2="250.10" y2="277.87" stroke="#111" stroke-width="0.9"/>
<line x1="246.10" y1="282.63" x2="250.10" y2="282.63" stroke="#111" stroke-width="0.9"/>
<circle cx="258.40" cy="276.04" r="1.1" fill="#e8453a"/>
<circle cx="258.40" cy="278.07" r="1.1" fill="#e8453a"/>
<circle cx="258.40" cy="280.10" r="1.1" fill="#e8453a"/>
<circle cx="262.10" cy="276.04" r="1.1" fill="#e8453a"/>
<circle cx="262.10" cy="280.21" r="1.1" fill="#e8453a"/>
<circle cx="262.10" cy="281.38" r="1.1" fill="#e8453a"/>
<circle cx="262.10" cy="283.09" r="1.1" fill="#e8453a"/>
<circle cx="265.80" cy="278.61" r="1.1" fill="#e8453a"/>
<circle cx="265.80" cy="280.74" r="1.1" fill="#e8453a"/>
<line x1="257.60" y1="279.03" x2="266.60" y2="279.03" stroke="#e8453a" stroke-width="1.0"/>
<line x1="262.10" y1="276.25" x2="262.10" y2="281.81" stroke="#e8453a" stroke-width="0.9"/>
<line x1="260.10" y1="276.25" x2="264.10" y2="276.25" stroke="#e8453a" stroke-width="0.9"/>
<line x1="260.10" y1="281.81" x2="264.10" y2="281.81" stroke="#e8453a" stroke-width="0.9"/>
<line x1="245.60" y1="267.90" x2="262.60" y2="267.90" stroke="#6a6a6a" stroke-width="1.5"/>
<text x="254.10" y="262.80" font-size="10.2" text-anchor="middle" fill="#0e0e0e" style="">NS</text>
<line x1="293.20" y1="300.40" x2="293.20" y2="303.40" stroke="#111" stroke-width="1.3"/>
<text x="293.20" y="314.00" font-size="12.5" text-anchor="middle" fill="#0e0e0e" style="">14d</text>
<circle cx="282.50" cy="265.45" r="1.1" fill="#111"/>
<circle cx="282.50" cy="268.20" r="1.1" fill="#111"/>
<circle cx="286.20" cy="264.08" r="1.1" fill="#111"/>
<circle cx="286.20" cy="266.96" r="1.1" fill="#111"/>
<circle cx="286.20" cy="269.43" r="1.1" fill="#111"/>
<circle cx="286.20" cy="272.32" r="1.1" fill="#111"/>
<circle cx="289.90" cy="265.59" r="1.1" fill="#111"/>
<circle cx="289.90" cy="268.47" r="1.1" fill="#111"/>
<line x1="281.70" y1="266.82" x2="290.70" y2="266.82" stroke="#111" stroke-width="1.0"/>
<line x1="286.20" y1="263.25" x2="286.20" y2="270.39" stroke="#111" stroke-width="0.9"/>
<line x1="284.20" y1="263.25" x2="288.20" y2="263.25" stroke="#111" stroke-width="0.9"/>
<line x1="284.20" y1="270.39" x2="288.20" y2="270.39" stroke="#111" stroke-width="0.9"/>
<circle cx="296.50" cy="264.62" r="1.1" fill="#e8453a"/>
<circle cx="296.50" cy="266.94" r="1.1" fill="#e8453a"/>
<circle cx="296.50" cy="269.26" r="1.1" fill="#e8453a"/>
<circle cx="300.20" cy="264.62" r="1.1" fill="#e8453a"/>
<circle cx="300.20" cy="269.39" r="1.1" fill="#e8453a"/>
<circle cx="300.20" cy="270.73" r="1.1" fill="#e8453a"/>
<circle cx="300.20" cy="272.68" r="1.1" fill="#e8453a"/>
<circle cx="303.90" cy="267.56" r="1.1" fill="#e8453a"/>
<circle cx="303.90" cy="270.00" r="1.1" fill="#e8453a"/>
<line x1="295.70" y1="268.04" x2="304.70" y2="268.04" stroke="#e8453a" stroke-width="1.0"/>
<line x1="300.20" y1="264.87" x2="300.20" y2="271.22" stroke="#e8453a" stroke-width="0.9"/>
<line x1="298.20" y1="264.87" x2="302.20" y2="264.87" stroke="#e8453a" stroke-width="0.9"/>
<line x1="298.20" y1="271.22" x2="302.20" y2="271.22" stroke="#e8453a" stroke-width="0.9"/>
<line x1="283.70" y1="252.10" x2="300.70" y2="252.10" stroke="#6a6a6a" stroke-width="1.5"/>
<text x="292.20" y="246.80" font-size="10.2" text-anchor="middle" fill="#0e0e0e" style="">NS</text>
<line x1="331.30" y1="300.40" x2="331.30" y2="303.40" stroke="#111" stroke-width="1.3"/>
<text x="331.30" y="314.00" font-size="12.5" text-anchor="middle" fill="#0e0e0e" style="">21d</text>
<circle cx="320.60" cy="226.22" r="1.1" fill="#111"/>
<circle cx="320.60" cy="230.50" r="1.1" fill="#111"/>
<circle cx="324.30" cy="224.09" r="1.1" fill="#111"/>
<circle cx="324.30" cy="228.57" r="1.1" fill="#111"/>
<circle cx="324.30" cy="232.42" r="1.1" fill="#111"/>
<circle cx="324.30" cy="236.91" r="1.1" fill="#111"/>
<circle cx="328.00" cy="226.44" r="1.1" fill="#111"/>
<circle cx="328.00" cy="230.93" r="1.1" fill="#111"/>
<line x1="319.80" y1="228.36" x2="328.80" y2="228.36" stroke="#111" stroke-width="1.0"/>
<line x1="324.30" y1="222.81" x2="324.30" y2="233.92" stroke="#111" stroke-width="0.9"/>
<line x1="322.30" y1="222.81" x2="326.30" y2="222.81" stroke="#111" stroke-width="0.9"/>
<line x1="322.30" y1="233.92" x2="326.30" y2="233.92" stroke="#111" stroke-width="0.9"/>
<circle cx="334.60" cy="223.97" r="1.1" fill="#e8453a"/>
<circle cx="334.60" cy="228.61" r="1.1" fill="#e8453a"/>
<circle cx="334.60" cy="233.24" r="1.1" fill="#e8453a"/>
<circle cx="338.30" cy="223.97" r="1.1" fill="#e8453a"/>
<circle cx="338.30" cy="233.49" r="1.1" fill="#e8453a"/>
<circle cx="338.30" cy="236.18" r="1.1" fill="#e8453a"/>
<circle cx="338.30" cy="240.08" r="1.1" fill="#e8453a"/>
<circle cx="342.00" cy="229.83" r="1.1" fill="#e8453a"/>
<circle cx="342.00" cy="234.71" r="1.1" fill="#e8453a"/>
<line x1="333.80" y1="230.80" x2="342.80" y2="230.80" stroke="#e8453a" stroke-width="1.0"/>
<line x1="338.30" y1="224.45" x2="338.30" y2="237.15" stroke="#e8453a" stroke-width="0.9"/>
<line x1="336.30" y1="224.45" x2="340.30" y2="224.45" stroke="#e8453a" stroke-width="0.9"/>
<line x1="336.30" y1="237.15" x2="340.30" y2="237.15" stroke="#e8453a" stroke-width="0.9"/>
<line x1="321.80" y1="213.90" x2="338.80" y2="213.90" stroke="#6a6a6a" stroke-width="1.5"/>
<text x="330.30" y="208.80" font-size="10.2" text-anchor="middle" fill="#0e0e0e" style="">NS</text>
<line x1="369.40" y1="300.40" x2="369.40" y2="303.40" stroke="#111" stroke-width="1.3"/>
<text x="371.80" y="314.00" font-size="12.5" text-anchor="middle" fill="#0e0e0e" style="">10w</text>
<circle cx="358.70" cy="201.80" r="1.1" fill="#111"/>
<circle cx="358.70" cy="203.64" r="1.1" fill="#111"/>
<circle cx="362.40" cy="200.89" r="1.1" fill="#111"/>
<circle cx="362.40" cy="202.81" r="1.1" fill="#111"/>
<circle cx="362.40" cy="204.46" r="1.1" fill="#111"/>
<circle cx="362.40" cy="206.38" r="1.1" fill="#111"/>
<circle cx="366.10" cy="201.90" r="1.1" fill="#111"/>
<circle cx="366.10" cy="203.82" r="1.1" fill="#111"/>
<line x1="357.90" y1="202.72" x2="366.90" y2="202.72" stroke="#111" stroke-width="1.0"/>
<line x1="362.40" y1="200.34" x2="362.40" y2="205.10" stroke="#111" stroke-width="0.9"/>
<line x1="360.40" y1="200.34" x2="364.40" y2="200.34" stroke="#111" stroke-width="0.9"/>
<line x1="360.40" y1="205.10" x2="364.40" y2="205.10" stroke="#111" stroke-width="0.9"/>
<circle cx="372.70" cy="199.61" r="1.1" fill="#e8453a"/>
<circle cx="372.70" cy="201.93" r="1.1" fill="#e8453a"/>
<circle cx="372.70" cy="204.25" r="1.1" fill="#e8453a"/>
<circle cx="376.40" cy="199.61" r="1.1" fill="#e8453a"/>
<circle cx="376.40" cy="204.37" r="1.1" fill="#e8453a"/>
<circle cx="376.40" cy="205.71" r="1.1" fill="#e8453a"/>
<circle cx="376.40" cy="207.67" r="1.1" fill="#e8453a"/>
<circle cx="380.10" cy="202.54" r="1.1" fill="#e8453a"/>
<circle cx="380.10" cy="204.98" r="1.1" fill="#e8453a"/>
<line x1="371.90" y1="203.03" x2="380.90" y2="203.03" stroke="#e8453a" stroke-width="1.0"/>
<line x1="376.40" y1="199.85" x2="376.40" y2="206.20" stroke="#e8453a" stroke-width="0.9"/>
<line x1="374.40" y1="199.85" x2="378.40" y2="199.85" stroke="#e8453a" stroke-width="0.9"/>
<line x1="374.40" y1="206.20" x2="378.40" y2="206.20" stroke="#e8453a" stroke-width="0.9"/>
<line x1="359.90" y1="192.00" x2="376.90" y2="192.00" stroke="#6a6a6a" stroke-width="1.5"/>
<text x="368.40" y="188.70" font-size="10.2" text-anchor="middle" fill="#0e0e0e" style="">NS</text>
<text x="211.10" y="244.20" font-size="12.6" text-anchor="middle" fill="#0e0e0e" style="" transform="rotate(-90 211.1 244.2)">Body Weight(g)</text>
<circle cx="394.70" cy="163.30" r="3" fill="#111"/>
<circle cx="394.70" cy="182.30" r="3" fill="#e8453a"/>
<text x="405.30" y="167.00" font-size="12.5" text-anchor="start" fill="#0e0e0e" style="">Wildtype</text>
<text x="405.30" y="187.30" font-size="12.5" text-anchor="start" fill="#0e0e0e" style="font-style:italic">Fgf7<tspan font-size="7.75" dy="-4.75">-/-</tspan></text>
<text x="463.20" y="164.70" font-size="12" text-anchor="start" fill="#0e0e0e" style="">C</text>
<text x="493.30" y="202.70" font-size="15.1" text-anchor="start" fill="#0e0e0e" style="">Hangers Experiment</text>
<g transform="translate(0 0)" fill="none" stroke="#1a1a1a" stroke-width="1.15" stroke-linejoin="round"><path d="M482.7 240.5 H493.8 C495.5 241.3 496.2 244.6 498.2 246.1 C503 248.6 510.5 250.6 515.4 252.5 C519 254 521.6 256 521.6 258.5 H456.2 C456.2 256 458 254 460.5 252.5 C465.4 250.6 473 248.6 478.3 246.1 C480.3 244.6 481 241.3 482.7 240.5 Z"/><path d="M488.2 240.5 V235.6 C488.2 233.4 492.4 232.6 492.4 229.6 C492.4 226.9 490.4 225.9 488.5 225.9 C486.6 225.9 484.9 226.9 484.5 228.4"/></g>
<g transform="translate(135.4 -1.4)" fill="none" stroke="#1a1a1a" stroke-width="1.15" stroke-linejoin="round"><path d="M482.7 240.5 H493.8 C495.5 241.3 496.2 244.6 498.2 246.1 C503 248.6 510.5 250.6 515.4 252.5 C519 254 521.6 256 521.6 258.5 H456.2 C456.2 256 458 254 460.5 252.5 C465.4 250.6 473 248.6 478.3 246.1 C480.3 244.6 481 241.3 482.7 240.5 Z"/><path d="M488.2 240.5 V235.6 C488.2 233.4 492.4 232.6 492.4 229.6 C492.4 226.9 490.4 225.9 488.5 225.9 C486.6 225.9 484.9 226.9 484.5 228.4"/></g>
<path d="M492 262.3 L496.4 259 M482.4 262.3 L478 259 M492.8 275 L496.4 279.6 M481.6 275 L478 279.6" stroke="#a9a9a9" stroke-width="2" stroke-linecap="round"/>
<path d="M487.10 251.60 C487.78 251.60 488.75 252.78 489.20 253.60 C489.65 254.42 489.62 255.60 489.80 256.50 C489.98 257.40 489.83 258.15 490.30 259.00 C490.77 259.85 491.88 260.43 492.60 261.60 C493.32 262.77 494.10 264.43 494.60 266.00 C495.10 267.57 495.67 269.42 495.60 271.00 C495.53 272.58 495.07 274.40 494.20 275.50 C493.33 276.60 491.57 277.17 490.40 277.60 C489.23 278.03 488.27 278.10 487.20 278.10 C486.13 278.10 485.17 278.03 484.00 277.60 C482.83 277.17 481.07 276.60 480.20 275.50 C479.33 274.40 478.87 272.58 478.80 271.00 C478.73 269.42 479.30 267.57 479.80 266.00 C480.30 264.43 481.08 262.77 481.80 261.60 C482.52 260.43 483.63 259.85 484.10 259.00 C484.57 258.15 484.43 257.40 484.60 256.50 C484.77 255.60 484.68 254.42 485.10 253.60 C485.52 252.78 486.42 251.60 487.10 251.60 Z" fill="#a9a9a9"/>
<circle cx="496.7" cy="258.9" r="1.2" fill="#d2a6a2"/><circle cx="477.8" cy="258.9" r="1.2" fill="#d2a6a2"/>
<path d="M495.2 279.6 L498.4 280.4 M479.2 279.6 L476 280.4" stroke="#d2a6a2" stroke-width="1.3" stroke-linecap="round"/>
<path d="M487.2 278 C487 283.5 489.8 287.5 488.8 291.5 C488.5 293 489.3 294.3 489.6 295" fill="none" stroke="#c9a09c" stroke-width="0.9"/>
<rect x="503.6" y="261.4" width="2.7" height="16.2" fill="#111"/><path d="M502.6 262.6 L504.95 259.2 L507.3 262.6 Z" fill="#111"/>
<text x="510.00" y="272.30" font-size="12.3" text-anchor="start" fill="#0e0e0e" style="">Grasp</text>
<rect x="637.8" y="257.4" width="2.6" height="15.8" fill="#111"/><path d="M636.6 272.4 L639.1 276 L641.6 272.4 Z" fill="#111"/>
<text x="645.60" y="271.20" font-size="12.3" text-anchor="start" fill="#0e0e0e" style="">Fall</text>
<path d="M533 250 H575 M533 256.6 H575 M570 246 L578.5 253.3 L570 260.6" fill="none" stroke="#555" stroke-width="1"/>
<path d="M609 274 C603 272.5 597 272.8 594 276 C592.3 278 591.6 280.5 591.6 283.3" fill="none" stroke="#c9a09c" stroke-width="0.9"/>
<ellipse cx="617.8" cy="264.2" rx="1.7" ry="3.4" fill="#c9a09c" transform="rotate(-8 617.8 264.2)"/><ellipse cx="624.9" cy="264.2" rx="1.7" ry="3.4" fill="#c9a09c" transform="rotate(8 624.9 264.2)"/>
<path d="M612.00 268.50 C613.22 267.60 614.92 266.95 616.50 266.60 C618.08 266.25 619.95 266.23 621.50 266.40 C623.05 266.57 624.72 266.92 625.80 267.60 C626.88 268.28 627.48 269.27 628.00 270.50 C628.52 271.73 628.80 273.50 628.90 275.00 C629.00 276.50 629.00 278.47 628.60 279.50 C628.20 280.53 627.77 280.85 626.50 281.20 C625.23 281.55 622.92 281.60 621.00 281.60 C619.08 281.60 616.67 281.53 615.00 281.20 C613.33 280.87 612.03 280.38 611.00 279.60 C609.97 278.82 609.10 277.77 608.80 276.50 C608.50 275.23 608.67 273.33 609.20 272.00 C609.73 270.67 610.78 269.40 612.00 268.50 Z" fill="#a9a9a9" stroke="#8a8a8a" stroke-width="0.4"/>
<path d="M616.5 268.5 L621 279 L626 268.5" fill="none" stroke="#8f8f8f" stroke-width="0.5"/>
<circle cx="618.7" cy="271.9" r="0.8" fill="#6d5050"/><circle cx="623.5" cy="271.9" r="0.8" fill="#6d5050"/><circle cx="620.9" cy="277.2" r="0.9" fill="#d9a6a6"/>
<circle cx="610" cy="278.9" r="1.2" fill="#d2a6a2"/><circle cx="614.8" cy="283" r="1.3" fill="#d2a6a2"/><circle cx="627.5" cy="282.6" r="1.2" fill="#d2a6a2"/>
<text x="1.20" y="329.40" font-size="11.8" text-anchor="start" fill="#0e0e0e" style="">D</text>
<path d="M68.50 464.30 V415.80 H93.50 V464.30" fill="none" stroke="#111" stroke-width="1.6"/>
<path d="M107.40 464.30 V421.32 H132.40 V464.30" fill="none" stroke="#e8453a" stroke-width="1.6"/>
<circle cx="81.00" cy="357.83" r="2.6" fill="#111"/>
<circle cx="81.00" cy="401.21" r="2.6" fill="#111"/>
<circle cx="81.00" cy="409.49" r="2.6" fill="#111"/>
<circle cx="70.70" cy="421.32" r="2.6" fill="#111"/>
<circle cx="91.80" cy="421.32" r="2.6" fill="#111"/>
<circle cx="70.70" cy="433.15" r="2.6" fill="#111"/>
<circle cx="91.80" cy="433.15" r="2.6" fill="#111"/>
<circle cx="81.00" cy="444.98" r="2.6" fill="#111"/>
<circle cx="119.90" cy="377.55" r="2.6" fill="#e8453a"/>
<circle cx="109.20" cy="401.21" r="2.6" fill="#e8453a"/>
<circle cx="119.90" cy="405.15" r="2.6" fill="#e8453a"/>
<circle cx="109.20" cy="420.92" r="2.6" fill="#e8453a"/>
<circle cx="119.90" cy="420.92" r="2.6" fill="#e8453a"/>
<circle cx="119.90" cy="432.75" r="2.6" fill="#e8453a"/>
<circle cx="119.90" cy="444.58" r="2.6" fill="#e8453a"/>
<circle cx="119.90" cy="460.36" r="2.6" fill="#e8453a"/>
<line x1="81.00" y1="388.19" x2="81.00" y2="443.40" stroke="#111" stroke-width="1.1"/>
<line x1="74.25" y1="388.19" x2="87.75" y2="388.19" stroke="#111" stroke-width="1.1"/>
<line x1="74.25" y1="443.40" x2="87.75" y2="443.40" stroke="#111" stroke-width="1.1"/>
<line x1="119.90" y1="395.29" x2="119.90" y2="447.34" stroke="#e8453a" stroke-width="1.1"/>
<line x1="113.15" y1="395.29" x2="126.65" y2="395.29" stroke="#e8453a" stroke-width="1.1"/>
<line x1="113.15" y1="447.34" x2="126.65" y2="447.34" stroke="#e8453a" stroke-width="1.1"/>
<path d="M55.20 346.00 V464.30 H144.50" fill="none" stroke="#222" stroke-width="1.3"/>
<line x1="50.20" y1="464.30" x2="55.20" y2="464.30" stroke="#222" stroke-width="1.3"/>
<text x="49.90" y="468.80" font-size="13" text-anchor="end" fill="#0e0e0e" style="">0</text>
<line x1="50.20" y1="424.87" x2="55.20" y2="424.87" stroke="#222" stroke-width="1.3"/>
<text x="49.90" y="429.37" font-size="13" text-anchor="end" fill="#0e0e0e" style="">10</text>
<line x1="50.20" y1="385.43" x2="55.20" y2="385.43" stroke="#222" stroke-width="1.3"/>
<text x="49.90" y="389.93" font-size="13" text-anchor="end" fill="#0e0e0e" style="">20</text>
<line x1="50.20" y1="346.00" x2="55.20" y2="346.00" stroke="#222" stroke-width="1.3"/>
<text x="49.90" y="350.50" font-size="13" text-anchor="end" fill="#0e0e0e" style="">30</text>
<line x1="81.00" y1="464.30" x2="81.00" y2="469.30" stroke="#222" stroke-width="1.3"/>
<line x1="119.90" y1="464.30" x2="119.90" y2="469.30" stroke="#222" stroke-width="1.3"/>
<text x="81.00" y="480.80" font-size="12.8" text-anchor="middle" fill="#0e0e0e" style="">Wildtype</text>
<text x="110.20" y="481.80" font-size="12.8" text-anchor="start" fill="#0e0e0e" style="font-style:italic">Fgf7<tspan font-size="7.94" dy="-4.86">-/-</tspan></text>
<line x1="80.90" y1="347.20" x2="119.90" y2="347.20" stroke="#111" stroke-width="1.5"/>
<text x="100.90" y="345.10" font-size="12.8" text-anchor="middle" fill="#0e0e0e" style="">NS</text>
<text x="77.20" y="331.20" font-size="10.2" text-anchor="start" fill="#0e0e0e"><tspan style="font-style:italic">p</tspan>=0.6887</text>
<text x="28.30" y="405.70" font-size="12.7" text-anchor="middle" fill="#0e0e0e" style="" transform="rotate(-90 28.3 405.7)">Latency To Fall(sec)</text>
<text x="14.90" y="400.40" font-size="12.7" text-anchor="middle" fill="#0e0e0e" style="" transform="rotate(-90 14.9 400.4)">P7</text>
<path d="M246.90 463.40 V423.95 H271.90 V463.40" fill="none" stroke="#111" stroke-width="1.6"/>
<path d="M285.30 463.40 V423.01 H310.30 V463.40" fill="none" stroke="#e8453a" stroke-width="1.6"/>
<circle cx="259.40" cy="376.52" r="2.6" fill="#111"/>
<circle cx="259.40" cy="411.74" r="2.6" fill="#111"/>
<circle cx="259.40" cy="423.95" r="2.6" fill="#111"/>
<circle cx="248.90" cy="430.53" r="2.6" fill="#111"/>
<circle cx="269.80" cy="423.95" r="2.6" fill="#111"/>
<circle cx="269.80" cy="435.22" r="2.6" fill="#111"/>
<circle cx="259.40" cy="437.57" r="2.6" fill="#111"/>
<circle cx="259.40" cy="451.66" r="2.6" fill="#111"/>
<circle cx="297.80" cy="357.74" r="2.6" fill="#e8453a"/>
<circle cx="297.80" cy="407.05" r="2.6" fill="#e8453a"/>
<circle cx="287.40" cy="428.18" r="2.6" fill="#e8453a"/>
<circle cx="287.40" cy="435.22" r="2.6" fill="#e8453a"/>
<circle cx="297.80" cy="430.53" r="2.6" fill="#e8453a"/>
<circle cx="297.80" cy="439.92" r="2.6" fill="#e8453a"/>
<circle cx="308.50" cy="437.57" r="2.6" fill="#e8453a"/>
<circle cx="297.80" cy="446.96" r="2.6" fill="#e8453a"/>
<line x1="259.40" y1="401.41" x2="259.40" y2="446.49" stroke="#111" stroke-width="1.1"/>
<line x1="252.65" y1="401.41" x2="266.15" y2="401.41" stroke="#111" stroke-width="1.1"/>
<line x1="252.65" y1="446.49" x2="266.15" y2="446.49" stroke="#111" stroke-width="1.1"/>
<line x1="297.80" y1="394.13" x2="297.80" y2="451.89" stroke="#e8453a" stroke-width="1.1"/>
<line x1="291.05" y1="394.13" x2="304.55" y2="394.13" stroke="#e8453a" stroke-width="1.1"/>
<line x1="291.05" y1="451.89" x2="304.55" y2="451.89" stroke="#e8453a" stroke-width="1.1"/>
<path d="M233.30 346.00 V463.40 H323.90" fill="none" stroke="#222" stroke-width="1.3"/>
<line x1="228.30" y1="463.40" x2="233.30" y2="463.40" stroke="#222" stroke-width="1.3"/>
<text x="228.00" y="467.90" font-size="13" text-anchor="end" fill="#0e0e0e" style="">0</text>
<line x1="228.30" y1="439.92" x2="233.30" y2="439.92" stroke="#222" stroke-width="1.3"/>
<text x="228.00" y="444.42" font-size="13" text-anchor="end" fill="#0e0e0e" style="">10</text>
<line x1="228.30" y1="416.44" x2="233.30" y2="416.44" stroke="#222" stroke-width="1.3"/>
<text x="228.00" y="420.94" font-size="13" text-anchor="end" fill="#0e0e0e" style="">20</text>
<line x1="228.30" y1="392.96" x2="233.30" y2="392.96" stroke="#222" stroke-width="1.3"/>
<text x="228.00" y="397.46" font-size="13" text-anchor="end" fill="#0e0e0e" style="">30</text>
<line x1="228.30" y1="369.48" x2="233.30" y2="369.48" stroke="#222" stroke-width="1.3"/>
<text x="228.00" y="373.98" font-size="13" text-anchor="end" fill="#0e0e0e" style="">40</text>
<line x1="228.30" y1="346.00" x2="233.30" y2="346.00" stroke="#222" stroke-width="1.3"/>
<text x="228.00" y="350.50" font-size="13" text-anchor="end" fill="#0e0e0e" style="">50</text>
<line x1="259.40" y1="463.40" x2="259.40" y2="468.40" stroke="#222" stroke-width="1.3"/>
<line x1="297.80" y1="463.40" x2="297.80" y2="468.40" stroke="#222" stroke-width="1.3"/>
<text x="258.30" y="482.10" font-size="12.8" text-anchor="middle" fill="#0e0e0e" style="">Wildtype</text>
<text x="286.20" y="483.10" font-size="12.8" text-anchor="start" fill="#0e0e0e" style="font-style:italic">Fgf7<tspan font-size="7.94" dy="-4.86">-/-</tspan></text>
<line x1="258.90" y1="347.60" x2="298.00" y2="347.60" stroke="#111" stroke-width="1.5"/>
<text x="278.95" y="345.50" font-size="12.8" text-anchor="middle" fill="#0e0e0e" style="">NS</text>
<text x="251.00" y="331.20" font-size="10.2" text-anchor="start" fill="#0e0e0e"><tspan style="font-style:italic">p</tspan>=0.9466</text>
<text x="204.80" y="405.80" font-size="12.7" text-anchor="middle" fill="#0e0e0e" style="" transform="rotate(-90 204.8 405.8)">Latency To Fall(sec)</text>
<text x="190.40" y="400.50" font-size="12.7" text-anchor="middle" fill="#0e0e0e" style="" transform="rotate(-90 190.4 400.5)">P14</text>
<path d="M421.80 462.60 V399.90 H446.80 V462.60" fill="none" stroke="#111" stroke-width="1.6"/>
<path d="M459.90 462.60 V424.15 H484.90 V462.60" fill="none" stroke="#e8453a" stroke-width="1.6"/>
<circle cx="434.30" cy="367.96" r="2.6" fill="#111"/>
<circle cx="423.60" cy="394.58" r="2.6" fill="#111"/>
<circle cx="434.30" cy="385.26" r="2.6" fill="#111"/>
<circle cx="434.30" cy="399.01" r="2.6" fill="#111"/>
<circle cx="434.30" cy="412.32" r="2.6" fill="#111"/>
<circle cx="423.60" cy="420.46" r="2.6" fill="#111"/>
<circle cx="444.70" cy="418.24" r="2.6" fill="#111"/>
<circle cx="434.30" cy="403.45" r="2.6" fill="#111"/>
<circle cx="469.40" cy="401.97" r="2.6" fill="#e8453a"/>
<circle cx="462.20" cy="421.20" r="2.6" fill="#e8453a"/>
<circle cx="469.40" cy="424.15" r="2.6" fill="#e8453a"/>
<circle cx="476.10" cy="421.20" r="2.6" fill="#e8453a"/>
<circle cx="483.60" cy="424.15" r="2.6" fill="#e8453a"/>
<circle cx="462.20" cy="433.03" r="2.6" fill="#e8453a"/>
<circle cx="476.10" cy="431.55" r="2.6" fill="#e8453a"/>
<circle cx="469.40" cy="435.24" r="2.6" fill="#e8453a"/>
<line x1="434.30" y1="382.30" x2="434.30" y2="417.50" stroke="#111" stroke-width="1.1"/>
<line x1="427.55" y1="382.30" x2="441.05" y2="382.30" stroke="#111" stroke-width="1.1"/>
<line x1="427.55" y1="417.50" x2="441.05" y2="417.50" stroke="#111" stroke-width="1.1"/>
<line x1="472.40" y1="413.80" x2="472.40" y2="434.50" stroke="#e8453a" stroke-width="1.1"/>
<line x1="465.65" y1="413.80" x2="479.15" y2="413.80" stroke="#e8453a" stroke-width="1.1"/>
<line x1="465.65" y1="434.50" x2="479.15" y2="434.50" stroke="#e8453a" stroke-width="1.1"/>
<path d="M407.80 344.30 V462.60 H498.80" fill="none" stroke="#222" stroke-width="1.3"/>
<line x1="402.80" y1="462.60" x2="407.80" y2="462.60" stroke="#222" stroke-width="1.3"/>
<text x="402.50" y="467.10" font-size="13" text-anchor="end" fill="#0e0e0e" style="">0</text>
<line x1="402.80" y1="433.03" x2="407.80" y2="433.03" stroke="#222" stroke-width="1.3"/>
<text x="402.50" y="437.53" font-size="13" text-anchor="end" fill="#0e0e0e" style="">20</text>
<line x1="402.80" y1="403.45" x2="407.80" y2="403.45" stroke="#222" stroke-width="1.3"/>
<text x="402.50" y="407.95" font-size="13" text-anchor="end" fill="#0e0e0e" style="">40</text>
<line x1="402.80" y1="373.88" x2="407.80" y2="373.88" stroke="#222" stroke-width="1.3"/>
<text x="402.50" y="378.38" font-size="13" text-anchor="end" fill="#0e0e0e" style="">60</text>
<line x1="402.80" y1="344.30" x2="407.80" y2="344.30" stroke="#222" stroke-width="1.3"/>
<text x="402.50" y="348.80" font-size="13" text-anchor="end" fill="#0e0e0e" style="">80</text>
<line x1="434.30" y1="462.60" x2="434.30" y2="467.60" stroke="#222" stroke-width="1.3"/>
<line x1="472.40" y1="462.60" x2="472.40" y2="467.60" stroke="#222" stroke-width="1.3"/>
<text x="431.10" y="479.10" font-size="12.8" text-anchor="middle" fill="#0e0e0e" style="">Wildtype</text>
<text x="460.00" y="480.10" font-size="12.8" text-anchor="start" fill="#0e0e0e" style="font-style:italic">Fgf7<tspan font-size="7.94" dy="-4.86">-/-</tspan></text>
<line x1="435.80" y1="344.80" x2="475.30" y2="344.80" stroke="#111" stroke-width="1.5"/>
<polygon points="452.80,338.10 453.42,339.65 455.08,339.76 453.80,340.82 454.21,342.44 452.80,341.55 451.39,342.44 451.80,340.82 450.52,339.76 452.18,339.65" fill="#111"/>
<polygon points="457.60,338.10 458.22,339.65 459.88,339.76 458.60,340.82 459.01,342.44 457.60,341.55 456.19,342.44 456.60,340.82 455.32,339.76 456.98,339.65" fill="#111"/>
<text x="432.40" y="331.30" font-size="10.2" text-anchor="start" fill="#0e0e0e"><tspan style="font-style:italic">p</tspan>=0.0043</text>
<text x="381.30" y="405.70" font-size="12.7" text-anchor="middle" fill="#0e0e0e" style="" transform="rotate(-90 381.3 405.7)">Latency To Fall(sec)</text>
<text x="363.60" y="400.40" font-size="12.7" text-anchor="middle" fill="#0e0e0e" style="" transform="rotate(-90 363.6 400.4)">P21</text>
<path d="M594.30 463.10 V386.66 H619.30 V463.10" fill="none" stroke="#111" stroke-width="1.6"/>
<path d="M633.30 463.10 V433.70 H658.30 V463.10" fill="none" stroke="#e8453a" stroke-width="1.6"/>
<circle cx="596.10" cy="374.90" r="2.6" fill="#111"/>
<circle cx="601.30" cy="374.90" r="2.6" fill="#111"/>
<circle cx="606.80" cy="374.90" r="2.6" fill="#111"/>
<circle cx="611.80" cy="374.90" r="2.6" fill="#111"/>
<circle cx="616.70" cy="374.90" r="2.6" fill="#111"/>
<circle cx="606.80" cy="385.19" r="2.6" fill="#111"/>
<circle cx="606.80" cy="406.65" r="2.6" fill="#111"/>
<circle cx="606.80" cy="427.23" r="2.6" fill="#111"/>
<circle cx="645.80" cy="413.71" r="2.6" fill="#e8453a"/>
<circle cx="635.30" cy="432.23" r="2.6" fill="#e8453a"/>
<circle cx="645.80" cy="427.82" r="2.6" fill="#e8453a"/>
<circle cx="656.40" cy="426.35" r="2.6" fill="#e8453a"/>
<circle cx="645.80" cy="433.70" r="2.6" fill="#e8453a"/>
<circle cx="635.30" cy="446.64" r="2.6" fill="#e8453a"/>
<circle cx="645.80" cy="442.52" r="2.6" fill="#e8453a"/>
<circle cx="656.40" cy="444.28" r="2.6" fill="#e8453a"/>
<line x1="606.80" y1="366.67" x2="606.80" y2="406.65" stroke="#111" stroke-width="1.1"/>
<line x1="600.05" y1="366.67" x2="613.55" y2="366.67" stroke="#111" stroke-width="1.1"/>
<line x1="600.05" y1="406.65" x2="613.55" y2="406.65" stroke="#111" stroke-width="1.1"/>
<line x1="645.80" y1="422.53" x2="645.80" y2="444.87" stroke="#e8453a" stroke-width="1.1"/>
<line x1="639.05" y1="422.53" x2="652.55" y2="422.53" stroke="#e8453a" stroke-width="1.1"/>
<line x1="639.05" y1="444.87" x2="652.55" y2="444.87" stroke="#e8453a" stroke-width="1.1"/>
<path d="M580.70 345.50 V463.10 H671.80" fill="none" stroke="#222" stroke-width="1.3"/>
<line x1="575.70" y1="463.10" x2="580.70" y2="463.10" stroke="#222" stroke-width="1.3"/>
<text x="575.40" y="467.60" font-size="13" text-anchor="end" fill="#0e0e0e" style="">0</text>
<line x1="575.70" y1="433.70" x2="580.70" y2="433.70" stroke="#222" stroke-width="1.3"/>
<text x="575.40" y="438.20" font-size="13" text-anchor="end" fill="#0e0e0e" style="">100</text>
<line x1="575.70" y1="404.30" x2="580.70" y2="404.30" stroke="#222" stroke-width="1.3"/>
<text x="575.40" y="408.80" font-size="13" text-anchor="end" fill="#0e0e0e" style="">200</text>
<line x1="575.70" y1="374.90" x2="580.70" y2="374.90" stroke="#222" stroke-width="1.3"/>
<text x="575.40" y="379.40" font-size="13" text-anchor="end" fill="#0e0e0e" style="">300</text>
<line x1="575.70" y1="345.50" x2="580.70" y2="345.50" stroke="#222" stroke-width="1.3"/>
<text x="575.40" y="350.00" font-size="13" text-anchor="end" fill="#0e0e0e" style="">400</text>
<line x1="606.80" y1="463.10" x2="606.80" y2="468.10" stroke="#222" stroke-width="1.3"/>
<line x1="645.80" y1="463.10" x2="645.80" y2="468.10" stroke="#222" stroke-width="1.3"/>
<text x="603.90" y="479.60" font-size="12.8" text-anchor="middle" fill="#0e0e0e" style="">Wildtype</text>
<text x="633.30" y="480.60" font-size="12.8" text-anchor="start" fill="#0e0e0e" style="font-style:italic">Fgf7<tspan font-size="7.94" dy="-4.86">-/-</tspan></text>
<line x1="609.70" y1="345.90" x2="648.80" y2="345.90" stroke="#111" stroke-width="1.5"/>
<polygon points="626.90,338.90 627.52,340.45 629.18,340.56 627.90,341.62 628.31,343.24 626.90,342.35 625.49,343.24 625.90,341.62 624.62,340.56 626.28,340.45" fill="#111"/>
<polygon points="631.70,338.90 632.32,340.45 633.98,340.56 632.70,341.62 633.11,343.24 631.70,342.35 630.29,343.24 630.70,341.62 629.42,340.56 631.08,340.45" fill="#111"/>
<polygon points="636.50,338.90 637.12,340.45 638.78,340.56 637.50,341.62 637.91,343.24 636.50,342.35 635.09,343.24 635.50,341.62 634.22,340.56 635.88,340.45" fill="#111"/>
<text x="550.50" y="406.00" font-size="12.7" text-anchor="middle" fill="#0e0e0e" style="" transform="rotate(-90 550.5 406)">Latency To Fall(sec)</text>
<text x="534.30" y="400.70" font-size="12.7" text-anchor="middle" fill="#0e0e0e" style="" transform="rotate(-90 534.3 400.7)">10W</text>
<text x="1.60" y="504.00" font-size="12" text-anchor="start" fill="#0e0e0e" style="">E</text>
<text x="99.20" y="525.90" font-size="15.5" text-anchor="start" fill="#0e0e0e" style="">Run-to-exhaustion Test</text>
<path d="M126 590.0 Q171 596.5 216 588.6999999999999" fill="none" stroke="#222" stroke-width="2.2" stroke-dasharray="1.4 2.6"/>
<path d="M126 585.6 Q171 592.1 216 584.3" fill="none" stroke="#111" stroke-width="6.2"/>
<path d="M126 585.6 Q171 592.1 216 584.3" fill="none" stroke="#a53238" stroke-width="4.2" stroke-dasharray="6.6 1.3"/>
<path d="M126 607.8000000000001 Q171 613.4 218 606.9" fill="none" stroke="#222" stroke-width="2.2" stroke-dasharray="1.4 2.6"/>
<path d="M126 612.2 Q171 617.8 218 611.3" fill="none" stroke="#111" stroke-width="6.2"/>
<path d="M126 612.2 Q171 617.8 218 611.3" fill="none" stroke="#a53238" stroke-width="4.2" stroke-dasharray="6.6 1.3"/>
<circle cx="107.9" cy="593.8" r="22.4" fill="#fff" stroke="#111" stroke-width="1.7"/>
<circle cx="107.9" cy="593.8" r="19" fill="none" stroke="#111" stroke-width="0.9"/>
<circle cx="107.9" cy="593.8" r="6.4" fill="none" stroke="#111" stroke-width="2"/>
<circle cx="107.9" cy="593.8" r="3.6" fill="none" stroke="#111" stroke-width="0.8"/>
<path d="M97.93 589.15 A11 11 0 0 1 102.07 584.47" fill="none" stroke="#444" stroke-width="0.55"/>
<path d="M118.36 597.20 A11 11 0 0 1 114.97 602.23" fill="none" stroke="#444" stroke-width="0.55"/>
<path d="M96.30 588.39 A12.8 12.8 0 0 1 101.12 582.94" fill="none" stroke="#444" stroke-width="0.55"/>
<path d="M120.07 597.76 A12.8 12.8 0 0 1 116.13 603.61" fill="none" stroke="#444" stroke-width="0.55"/>
<path d="M94.67 587.63 A14.6 14.6 0 0 1 100.16 581.42" fill="none" stroke="#444" stroke-width="0.55"/>
<path d="M121.79 598.31 A14.6 14.6 0 0 1 117.28 604.98" fill="none" stroke="#444" stroke-width="0.55"/>
<circle cx="235" cy="594.7" r="22.4" fill="#fff" stroke="#111" stroke-width="1.7"/>
<circle cx="235" cy="594.7" r="19" fill="none" stroke="#111" stroke-width="0.9"/>
<circle cx="235" cy="594.7" r="6.4" fill="none" stroke="#111" stroke-width="2"/>
<circle cx="235" cy="594.7" r="3.6" fill="none" stroke="#111" stroke-width="0.8"/>
<path d="M225.03 590.05 A11 11 0 0 1 229.17 585.37" fill="none" stroke="#444" stroke-width="0.55"/>
<path d="M245.46 598.10 A11 11 0 0 1 242.07 603.13" fill="none" stroke="#444" stroke-width="0.55"/>
<path d="M223.40 589.29 A12.8 12.8 0 0 1 228.22 583.84" fill="none" stroke="#444" stroke-width="0.55"/>
<path d="M247.17 598.66 A12.8 12.8 0 0 1 243.23 604.51" fill="none" stroke="#444" stroke-width="0.55"/>
<path d="M221.77 588.53 A14.6 14.6 0 0 1 227.26 582.32" fill="none" stroke="#444" stroke-width="0.55"/>
<path d="M248.89 599.21 A14.6 14.6 0 0 1 244.38 605.88" fill="none" stroke="#444" stroke-width="0.55"/>
<path d="M114.9 561.7 Q107.5 557.6 100.6 560.2" fill="none" stroke="#111" stroke-width="1.2"/>
<path d="M96.2 562.6 L99.7 558 L102.3 562.3 Z" fill="#111"/>
<path d="M266.2 575.6 Q264 567 258.1 564.4" fill="none" stroke="#111" stroke-width="1.2"/>
<path d="M252.9 562.4 L259.9 562.2 L257.5 566.8 Z" fill="#111"/>
<path d="M185 559.2 C192 558.5 198 560 201 563.5 C203 566 204 568 204.4 570" fill="none" stroke="#d9b3b0" stroke-width="1.1"/>
<path d="M194.5 572 L202.3 578.7 M158 571 L153.3 577.6 M168 574 L169.1 579.2 M176 574 L177.3 579.2" fill="none" stroke="#d9b3b0" stroke-width="1.1" stroke-linecap="round"/>
<path d="M145.1 560.8 C147 557 151 554.5 156 554.5 C162 555.5 166 556 174 556.3 C181 556.6 187 558 190 561.5 C192.5 564 195 569 196 573 L192 573.5 C188 572 185 571 181 573 L176.5 575.5 L173 572.5 C169 573 165 574 160 575 L157.5 572 C155 568 152 565 148 563.5 C146.5 563 145.3 562 145.1 560.8 Z" fill="#a2a2a2"/>
<circle cx="159.9" cy="557.6" r="2.6" fill="#d9b3b0"/><circle cx="155.3" cy="555" r="1.5" fill="#555"/><circle cx="151" cy="559.3" r="0.8" fill="#522"/><circle cx="145.6" cy="561" r="1.1" fill="#e6bcbc"/>
<text x="358.40" y="504.40" font-size="11.8" text-anchor="start" fill="#0e0e0e" style="">F</text>
<path d="M424.70 644.40 V547.00 H450.50 V644.40" fill="none" stroke="#111" stroke-width="1.6"/>
<path d="M467.50 644.40 V574.30 H493.30 V644.40" fill="none" stroke="#e8453a" stroke-width="1.6"/>
<circle cx="433.70" cy="539.30" r="2.55" fill="#111"/>
<circle cx="437.50" cy="538.20" r="2.55" fill="#111"/>
<circle cx="441.60" cy="536.70" r="2.55" fill="#111"/>
<circle cx="426.10" cy="546.40" r="2.55" fill="#111"/>
<circle cx="434.00" cy="547.00" r="2.55" fill="#111"/>
<circle cx="437.50" cy="547.50" r="2.55" fill="#111"/>
<circle cx="445.40" cy="546.40" r="2.55" fill="#111"/>
<circle cx="449.50" cy="547.00" r="2.55" fill="#111"/>
<circle cx="429.90" cy="551.00" r="2.55" fill="#111"/>
<circle cx="437.50" cy="549.30" r="2.55" fill="#111"/>
<circle cx="445.40" cy="552.80" r="2.55" fill="#111"/>
<circle cx="476.60" cy="563.20" r="2.55" fill="#e8453a"/>
<circle cx="484.50" cy="562.30" r="2.55" fill="#e8453a"/>
<circle cx="468.80" cy="570.50" r="2.55" fill="#e8453a"/>
<circle cx="476.60" cy="569.30" r="2.55" fill="#e8453a"/>
<circle cx="492.10" cy="567.60" r="2.55" fill="#e8453a"/>
<circle cx="484.50" cy="572.20" r="2.55" fill="#e8453a"/>
<circle cx="476.60" cy="574.60" r="2.55" fill="#e8453a"/>
<circle cx="476.60" cy="579.80" r="2.55" fill="#e8453a"/>
<circle cx="484.50" cy="579.00" r="2.55" fill="#e8453a"/>
<circle cx="484.50" cy="584.50" r="2.55" fill="#e8453a"/>
<circle cx="476.60" cy="587.40" r="2.55" fill="#e8453a"/>
<line x1="437.60" y1="540.80" x2="437.60" y2="551.00" stroke="#111" stroke-width="1.3"/>
<line x1="430.70" y1="540.80" x2="444.50" y2="540.80" stroke="#111" stroke-width="1.3"/>
<line x1="430.70" y1="551.00" x2="444.50" y2="551.00" stroke="#111" stroke-width="1.3"/>
<line x1="480.40" y1="565.50" x2="480.40" y2="582.00" stroke="#e8453a" stroke-width="1.3"/>
<line x1="473.50" y1="565.50" x2="487.30" y2="565.50" stroke="#e8453a" stroke-width="1.3"/>
<line x1="473.50" y1="582.00" x2="487.30" y2="582.00" stroke="#e8453a" stroke-width="1.3"/>
<path d="M409.00 515.30 V644.40 H507.50" fill="none" stroke="#222" stroke-width="1.3"/>
<line x1="403.70" y1="644.40" x2="409.00" y2="644.40" stroke="#222" stroke-width="1.3"/>
<text x="403.60" y="648.90" font-size="13" text-anchor="end" fill="#0e0e0e" style="">0</text>
<line x1="403.70" y1="612.12" x2="409.00" y2="612.12" stroke="#222" stroke-width="1.3"/>
<text x="403.60" y="616.62" font-size="13" text-anchor="end" fill="#0e0e0e" style="">10</text>
<line x1="403.70" y1="579.85" x2="409.00" y2="579.85" stroke="#222" stroke-width="1.3"/>
<text x="403.60" y="584.35" font-size="13" text-anchor="end" fill="#0e0e0e" style="">20</text>
<line x1="403.70" y1="547.57" x2="409.00" y2="547.57" stroke="#222" stroke-width="1.3"/>
<text x="403.60" y="552.07" font-size="13" text-anchor="end" fill="#0e0e0e" style="">30</text>
<line x1="403.70" y1="515.30" x2="409.00" y2="515.30" stroke="#222" stroke-width="1.3"/>
<text x="403.60" y="519.80" font-size="13" text-anchor="end" fill="#0e0e0e" style="">40</text>
<line x1="437.60" y1="644.40" x2="437.60" y2="649.90" stroke="#222" stroke-width="1.3"/>
<line x1="480.40" y1="644.40" x2="480.40" y2="649.90" stroke="#222" stroke-width="1.3"/>
<text x="439.00" y="660.50" font-size="12.8" text-anchor="middle" fill="#0e0e0e" style="">Wildtype</text>
<text x="470.20" y="662.00" font-size="12.8" text-anchor="start" fill="#0e0e0e" style="font-style:italic">Fgf7<tspan font-size="7.94" dy="-4.86">-/-</tspan></text>
<line x1="436.60" y1="525.00" x2="481.70" y2="525.00" stroke="#222" stroke-width="1.5"/>
<polygon points="452.80,517.80 453.42,519.35 455.08,519.46 453.80,520.52 454.21,522.14 452.80,521.25 451.39,522.14 451.80,520.52 450.52,519.46 452.18,519.35" fill="#111"/>
<polygon points="457.60,517.80 458.22,519.35 459.88,519.46 458.60,520.52 459.01,522.14 457.60,521.25 456.19,522.14 456.60,520.52 455.32,519.46 456.98,519.35" fill="#111"/>
<polygon points="462.40,517.80 463.02,519.35 464.68,519.46 463.40,520.52 463.81,522.14 462.40,521.25 460.99,522.14 461.40,520.52 460.12,519.46 461.78,519.35" fill="#111"/>
<text x="382.30" y="572.00" font-size="12.7" text-anchor="middle" fill="#0e0e0e" style="" transform="rotate(-90 382.3 572)">Max Speed(cm/s)</text>
<text x="455.40" y="506.10" font-size="12.5" text-anchor="middle" fill="#0e0e0e" style="">P21</text>
<path d="M596.70 644.60 V542.20 H622.50 V644.60" fill="none" stroke="#111" stroke-width="1.6"/>
<path d="M639.20 644.60 V580.70 H665.00 V644.60" fill="none" stroke="#e8453a" stroke-width="1.6"/>
<circle cx="598.20" cy="533.50" r="2.55" fill="#111"/>
<circle cx="602.60" cy="537.30" r="2.55" fill="#111"/>
<circle cx="597.90" cy="539.60" r="2.55" fill="#111"/>
<circle cx="607.20" cy="539.90" r="2.55" fill="#111"/>
<circle cx="616.60" cy="535.50" r="2.55" fill="#111"/>
<circle cx="621.20" cy="538.40" r="2.55" fill="#111"/>
<circle cx="611.90" cy="542.20" r="2.55" fill="#111"/>
<circle cx="616.60" cy="541.90" r="2.55" fill="#111"/>
<circle cx="602.60" cy="546.60" r="2.55" fill="#111"/>
<circle cx="611.90" cy="549.20" r="2.55" fill="#111"/>
<circle cx="607.20" cy="551.90" r="2.55" fill="#111"/>
<circle cx="640.60" cy="569.90" r="2.55" fill="#e8453a"/>
<circle cx="640.60" cy="575.80" r="2.55" fill="#e8453a"/>
<circle cx="663.80" cy="568.80" r="2.55" fill="#e8453a"/>
<circle cx="663.80" cy="577.50" r="2.55" fill="#e8453a"/>
<circle cx="652.10" cy="572.60" r="2.55" fill="#e8453a"/>
<circle cx="652.10" cy="581.90" r="2.55" fill="#e8453a"/>
<circle cx="640.60" cy="583.60" r="2.55" fill="#e8453a"/>
<circle cx="663.80" cy="584.80" r="2.55" fill="#e8453a"/>
<circle cx="652.10" cy="587.20" r="2.55" fill="#e8453a"/>
<circle cx="640.60" cy="590.70" r="2.55" fill="#e8453a"/>
<circle cx="663.80" cy="590.40" r="2.55" fill="#e8453a"/>
<line x1="609.60" y1="535.50" x2="609.60" y2="547.20" stroke="#111" stroke-width="1.3"/>
<line x1="602.70" y1="535.50" x2="616.50" y2="535.50" stroke="#111" stroke-width="1.3"/>
<line x1="602.70" y1="547.20" x2="616.50" y2="547.20" stroke="#111" stroke-width="1.3"/>
<line x1="652.10" y1="572.60" x2="652.10" y2="588.50" stroke="#e8453a" stroke-width="1.3"/>
<line x1="645.20" y1="572.60" x2="659.00" y2="572.60" stroke="#e8453a" stroke-width="1.3"/>
<line x1="645.20" y1="588.50" x2="659.00" y2="588.50" stroke="#e8453a" stroke-width="1.3"/>
<path d="M581.00 515.50 V644.60 H680.70" fill="none" stroke="#222" stroke-width="1.3"/>
<line x1="575.70" y1="644.60" x2="581.00" y2="644.60" stroke="#222" stroke-width="1.3"/>
<text x="575.60" y="649.10" font-size="13" text-anchor="end" fill="#0e0e0e" style="">0</text>
<line x1="575.70" y1="618.78" x2="581.00" y2="618.78" stroke="#222" stroke-width="1.3"/>
<text x="575.60" y="623.28" font-size="13" text-anchor="end" fill="#0e0e0e" style="">20</text>
<line x1="575.70" y1="592.96" x2="581.00" y2="592.96" stroke="#222" stroke-width="1.3"/>
<text x="575.60" y="597.46" font-size="13" text-anchor="end" fill="#0e0e0e" style="">40</text>
<line x1="575.70" y1="567.14" x2="581.00" y2="567.14" stroke="#222" stroke-width="1.3"/>
<text x="575.60" y="571.64" font-size="13" text-anchor="end" fill="#0e0e0e" style="">60</text>
<line x1="575.70" y1="541.32" x2="581.00" y2="541.32" stroke="#222" stroke-width="1.3"/>
<text x="575.60" y="545.82" font-size="13" text-anchor="end" fill="#0e0e0e" style="">80</text>
<line x1="575.70" y1="515.50" x2="581.00" y2="515.50" stroke="#222" stroke-width="1.3"/>
<text x="575.60" y="520.00" font-size="13" text-anchor="end" fill="#0e0e0e" style="">100</text>
<line x1="609.60" y1="644.60" x2="609.60" y2="650.10" stroke="#222" stroke-width="1.3"/>
<line x1="652.10" y1="644.60" x2="652.10" y2="650.10" stroke="#222" stroke-width="1.3"/>
<text x="610.30" y="662.60" font-size="12.8" text-anchor="middle" fill="#0e0e0e" style="">Wildtype</text>
<text x="642.10" y="664.10" font-size="12.8" text-anchor="start" fill="#0e0e0e" style="font-style:italic">Fgf7<tspan font-size="7.94" dy="-4.86">-/-</tspan></text>
<line x1="606.60" y1="524.60" x2="652.60" y2="524.60" stroke="#222" stroke-width="1.5"/>
<polygon points="627.20,517.60 627.82,519.15 629.48,519.26 628.20,520.32 628.61,521.94 627.20,521.05 625.79,521.94 626.20,520.32 624.92,519.26 626.58,519.15" fill="#111"/>
<polygon points="632.00,517.60 632.62,519.15 634.28,519.26 633.00,520.32 633.41,521.94 632.00,521.05 630.59,521.94 631.00,520.32 629.72,519.26 631.38,519.15" fill="#111"/>
<polygon points="636.80,517.60 637.42,519.15 639.08,519.26 637.80,520.32 638.21,521.94 636.80,521.05 635.39,521.94 635.80,520.32 634.52,519.26 636.18,519.15" fill="#111"/>
<text x="553.20" y="572.00" font-size="12.7" text-anchor="middle" fill="#0e0e0e" style="" transform="rotate(-90 553.2 572)">Max Speed(cm/s)</text>
<text x="623.00" y="506.60" font-size="12.5" text-anchor="middle" fill="#0e0e0e" style="">10W</text>
<text x="1.50" y="672.90" font-size="12" text-anchor="start" fill="#0e0e0e" style="">G</text>
<path d="M81.10 827.60 V757.50 H106.90 V827.60" fill="none" stroke="#111" stroke-width="1.6"/>
<path d="M123.70 827.60 V791.00 H149.50 V827.60" fill="none" stroke="#e8453a" stroke-width="1.6"/>
<circle cx="96.30" cy="742.30" r="2.55" fill="#111"/>
<circle cx="91.60" cy="746.40" r="2.55" fill="#111"/>
<circle cx="100.70" cy="753.70" r="2.55" fill="#111"/>
<circle cx="82.30" cy="757.80" r="2.55" fill="#111"/>
<circle cx="87.00" cy="757.50" r="2.55" fill="#111"/>
<circle cx="96.30" cy="757.50" r="2.55" fill="#111"/>
<circle cx="105.70" cy="758.40" r="2.55" fill="#111"/>
<circle cx="91.60" cy="760.40" r="2.55" fill="#111"/>
<circle cx="100.70" cy="760.10" r="2.55" fill="#111"/>
<circle cx="96.30" cy="763.60" r="2.55" fill="#111"/>
<circle cx="91.60" cy="766.20" r="2.55" fill="#111"/>
<circle cx="148.00" cy="776.70" r="2.55" fill="#e8453a"/>
<circle cx="136.60" cy="779.30" r="2.55" fill="#e8453a"/>
<circle cx="124.90" cy="784.30" r="2.55" fill="#e8453a"/>
<circle cx="148.00" cy="785.80" r="2.55" fill="#e8453a"/>
<circle cx="136.60" cy="787.20" r="2.55" fill="#e8453a"/>
<circle cx="124.90" cy="789.90" r="2.55" fill="#e8453a"/>
<circle cx="148.00" cy="792.20" r="2.55" fill="#e8453a"/>
<circle cx="124.90" cy="796.60" r="2.55" fill="#e8453a"/>
<circle cx="136.60" cy="797.70" r="2.55" fill="#e8453a"/>
<circle cx="148.00" cy="801.50" r="2.55" fill="#e8453a"/>
<circle cx="124.90" cy="804.20" r="2.55" fill="#e8453a"/>
<line x1="94.00" y1="749.60" x2="94.00" y2="763.60" stroke="#111" stroke-width="1.3"/>
<line x1="87.10" y1="749.60" x2="100.90" y2="749.60" stroke="#111" stroke-width="1.3"/>
<line x1="87.10" y1="763.60" x2="100.90" y2="763.60" stroke="#111" stroke-width="1.3"/>
<line x1="136.60" y1="782.00" x2="136.60" y2="799.50" stroke="#e8453a" stroke-width="1.3"/>
<line x1="129.70" y1="782.00" x2="143.50" y2="782.00" stroke="#e8453a" stroke-width="1.3"/>
<line x1="129.70" y1="799.50" x2="143.50" y2="799.50" stroke="#e8453a" stroke-width="1.3"/>
<path d="M65.80 698.50 V827.60 H165.80" fill="none" stroke="#222" stroke-width="1.3"/>
<line x1="60.50" y1="827.60" x2="65.80" y2="827.60" stroke="#222" stroke-width="1.3"/>
<text x="57.40" y="832.10" font-size="13" text-anchor="end" fill="#0e0e0e" style="">0</text>
<line x1="60.50" y1="784.57" x2="65.80" y2="784.57" stroke="#222" stroke-width="1.3"/>
<text x="57.40" y="789.07" font-size="13" text-anchor="end" fill="#0e0e0e" style="">50</text>
<line x1="60.50" y1="741.53" x2="65.80" y2="741.53" stroke="#222" stroke-width="1.3"/>
<text x="57.40" y="746.03" font-size="13" text-anchor="end" fill="#0e0e0e" style="">100</text>
<line x1="60.50" y1="698.50" x2="65.80" y2="698.50" stroke="#222" stroke-width="1.3"/>
<text x="57.40" y="703.00" font-size="13" text-anchor="end" fill="#0e0e0e" style="">150</text>
<line x1="94.00" y1="827.60" x2="94.00" y2="833.10" stroke="#222" stroke-width="1.3"/>
<line x1="136.60" y1="827.60" x2="136.60" y2="833.10" stroke="#222" stroke-width="1.3"/>
<text x="94.60" y="845.40" font-size="12.8" text-anchor="middle" fill="#0e0e0e" style="">Wildtype</text>
<text x="128.60" y="846.90" font-size="12.8" text-anchor="start" fill="#0e0e0e" style="font-style:italic">Fgf7<tspan font-size="7.94" dy="-4.86">-/-</tspan></text>
<line x1="94.30" y1="700.80" x2="139.00" y2="700.80" stroke="#222" stroke-width="1.5"/>
<polygon points="112.50,693.40 113.12,694.95 114.78,695.06 113.50,696.12 113.91,697.74 112.50,696.85 111.09,697.74 111.50,696.12 110.22,695.06 111.88,694.95" fill="#111"/>
<polygon points="117.30,693.40 117.92,694.95 119.58,695.06 118.30,696.12 118.71,697.74 117.30,696.85 115.89,697.74 116.30,696.12 115.02,695.06 116.68,694.95" fill="#111"/>
<polygon points="122.10,693.40 122.72,694.95 124.38,695.06 123.10,696.12 123.51,697.74 122.10,696.85 120.69,697.74 121.10,696.12 119.82,695.06 121.48,694.95" fill="#111"/>
<text x="32.30" y="762.00" font-size="12.7" text-anchor="middle" fill="#0e0e0e" style="" transform="rotate(-90 32.3 762)">Distance to exhaustion(m)</text>
<text x="113.40" y="679.00" font-size="12.5" text-anchor="middle" fill="#0e0e0e" style="">P21</text>
<path d="M255.70 828.30 V735.40 H281.50 V828.30" fill="none" stroke="#111" stroke-width="1.6"/>
<path d="M298.10 828.30 V792.10 H323.90 V828.30" fill="none" stroke="#e8453a" stroke-width="1.6"/>
<circle cx="264.60" cy="720.50" r="2.55" fill="#111"/>
<circle cx="257.00" cy="724.10" r="2.55" fill="#111"/>
<circle cx="264.60" cy="729.30" r="2.55" fill="#111"/>
<circle cx="272.50" cy="727.30" r="2.55" fill="#111"/>
<circle cx="257.00" cy="731.90" r="2.55" fill="#111"/>
<circle cx="280.10" cy="731.60" r="2.55" fill="#111"/>
<circle cx="264.60" cy="736.90" r="2.55" fill="#111"/>
<circle cx="272.50" cy="735.40" r="2.55" fill="#111"/>
<circle cx="264.60" cy="744.50" r="2.55" fill="#111"/>
<circle cx="272.50" cy="749.20" r="2.55" fill="#111"/>
<circle cx="264.60" cy="752.70" r="2.55" fill="#111"/>
<circle cx="299.60" cy="779.30" r="2.55" fill="#e8453a"/>
<circle cx="311.00" cy="778.10" r="2.55" fill="#e8453a"/>
<circle cx="322.70" cy="782.80" r="2.55" fill="#e8453a"/>
<circle cx="299.60" cy="786.60" r="2.55" fill="#e8453a"/>
<circle cx="322.70" cy="788.60" r="2.55" fill="#e8453a"/>
<circle cx="311.00" cy="793.90" r="2.55" fill="#e8453a"/>
<circle cx="299.60" cy="795.40" r="2.55" fill="#e8453a"/>
<circle cx="322.70" cy="796.80" r="2.55" fill="#e8453a"/>
<circle cx="311.00" cy="799.20" r="2.55" fill="#e8453a"/>
<circle cx="299.60" cy="802.70" r="2.55" fill="#e8453a"/>
<circle cx="322.70" cy="802.40" r="2.55" fill="#e8453a"/>
<line x1="268.60" y1="724.30" x2="268.60" y2="745.20" stroke="#111" stroke-width="1.3"/>
<line x1="261.70" y1="724.30" x2="275.50" y2="724.30" stroke="#111" stroke-width="1.3"/>
<line x1="261.70" y1="745.20" x2="275.50" y2="745.20" stroke="#111" stroke-width="1.3"/>
<line x1="311.00" y1="782.80" x2="311.00" y2="800.50" stroke="#e8453a" stroke-width="1.3"/>
<line x1="304.10" y1="782.80" x2="317.90" y2="782.80" stroke="#e8453a" stroke-width="1.3"/>
<line x1="304.10" y1="800.50" x2="317.90" y2="800.50" stroke="#e8453a" stroke-width="1.3"/>
<path d="M240.70 699.00 V828.30 H339.80" fill="none" stroke="#222" stroke-width="1.3"/>
<line x1="235.40" y1="828.30" x2="240.70" y2="828.30" stroke="#222" stroke-width="1.3"/>
<text x="232.30" y="832.80" font-size="13" text-anchor="end" fill="#0e0e0e" style="">0</text>
<line x1="235.40" y1="795.97" x2="240.70" y2="795.97" stroke="#222" stroke-width="1.3"/>
<text x="232.30" y="800.47" font-size="13" text-anchor="end" fill="#0e0e0e" style="">200</text>
<line x1="235.40" y1="763.65" x2="240.70" y2="763.65" stroke="#222" stroke-width="1.3"/>
<text x="232.30" y="768.15" font-size="13" text-anchor="end" fill="#0e0e0e" style="">400</text>
<line x1="235.40" y1="731.33" x2="240.70" y2="731.33" stroke="#222" stroke-width="1.3"/>
<text x="232.30" y="735.83" font-size="13" text-anchor="end" fill="#0e0e0e" style="">600</text>
<line x1="235.40" y1="699.00" x2="240.70" y2="699.00" stroke="#222" stroke-width="1.3"/>
<text x="232.30" y="703.50" font-size="13" text-anchor="end" fill="#0e0e0e" style="">800</text>
<line x1="268.60" y1="828.30" x2="268.60" y2="833.80" stroke="#222" stroke-width="1.3"/>
<line x1="311.00" y1="828.30" x2="311.00" y2="833.80" stroke="#222" stroke-width="1.3"/>
<text x="268.90" y="845.50" font-size="12.8" text-anchor="middle" fill="#0e0e0e" style="">Wildtype</text>
<text x="301.30" y="847.00" font-size="12.8" text-anchor="start" fill="#0e0e0e" style="font-style:italic">Fgf7<tspan font-size="7.94" dy="-4.86">-/-</tspan></text>
<line x1="273.00" y1="700.20" x2="316.90" y2="700.20" stroke="#222" stroke-width="1.5"/>
<polygon points="287.90,693.40 288.52,694.95 290.18,695.06 288.90,696.12 289.31,697.74 287.90,696.85 286.49,697.74 286.90,696.12 285.62,695.06 287.28,694.95" fill="#111"/>
<polygon points="292.70,693.40 293.32,694.95 294.98,695.06 293.70,696.12 294.11,697.74 292.70,696.85 291.29,697.74 291.70,696.12 290.42,695.06 292.08,694.95" fill="#111"/>
<polygon points="297.50,693.40 298.12,694.95 299.78,695.06 298.50,696.12 298.91,697.74 297.50,696.85 296.09,697.74 296.50,696.12 295.22,695.06 296.88,694.95" fill="#111"/>
<text x="204.60" y="762.00" font-size="12.7" text-anchor="middle" fill="#0e0e0e" style="" transform="rotate(-90 204.6 762)">Distance to exhaustion(m)</text>
<text x="290.30" y="679.10" font-size="12.5" text-anchor="middle" fill="#0e0e0e" style="">10W</text>
<text x="358.60" y="674.40" font-size="11.8" text-anchor="start" fill="#0e0e0e" style="">H</text>
<path d="M432.70 828.30 V717.50 H458.50 V828.30" fill="none" stroke="#111" stroke-width="1.6"/>
<path d="M475.20 828.30 V750.70 H501.00 V828.30" fill="none" stroke="#e8453a" stroke-width="1.6"/>
<circle cx="441.60" cy="707.00" r="2.55" fill="#111"/>
<circle cx="445.70" cy="705.50" r="2.55" fill="#111"/>
<circle cx="449.80" cy="708.50" r="2.55" fill="#111"/>
<circle cx="434.00" cy="717.50" r="2.55" fill="#111"/>
<circle cx="441.60" cy="717.50" r="2.55" fill="#111"/>
<circle cx="445.70" cy="718.10" r="2.55" fill="#111"/>
<circle cx="457.40" cy="717.80" r="2.55" fill="#111"/>
<circle cx="437.50" cy="720.70" r="2.55" fill="#111"/>
<circle cx="449.80" cy="722.50" r="2.55" fill="#111"/>
<circle cx="441.60" cy="726.60" r="2.55" fill="#111"/>
<circle cx="453.30" cy="719.90" r="2.55" fill="#111"/>
<circle cx="499.80" cy="735.80" r="2.55" fill="#e8453a"/>
<circle cx="488.10" cy="737.30" r="2.55" fill="#e8453a"/>
<circle cx="499.80" cy="742.30" r="2.55" fill="#e8453a"/>
<circle cx="476.80" cy="745.80" r="2.55" fill="#e8453a"/>
<circle cx="488.10" cy="744.60" r="2.55" fill="#e8453a"/>
<circle cx="499.80" cy="748.40" r="2.55" fill="#e8453a"/>
<circle cx="476.80" cy="753.10" r="2.55" fill="#e8453a"/>
<circle cx="499.80" cy="755.70" r="2.55" fill="#e8453a"/>
<circle cx="488.10" cy="759.20" r="2.55" fill="#e8453a"/>
<circle cx="499.80" cy="762.10" r="2.55" fill="#e8453a"/>
<circle cx="476.80" cy="765.90" r="2.55" fill="#e8453a"/>
<line x1="445.60" y1="710.40" x2="445.60" y2="723.10" stroke="#111" stroke-width="1.3"/>
<line x1="438.70" y1="710.40" x2="452.50" y2="710.40" stroke="#111" stroke-width="1.3"/>
<line x1="438.70" y1="723.10" x2="452.50" y2="723.10" stroke="#111" stroke-width="1.3"/>
<line x1="488.10" y1="740.40" x2="488.10" y2="760.20" stroke="#e8453a" stroke-width="1.3"/>
<line x1="481.20" y1="740.40" x2="495.00" y2="740.40" stroke="#e8453a" stroke-width="1.3"/>
<line x1="481.20" y1="760.20" x2="495.00" y2="760.20" stroke="#e8453a" stroke-width="1.3"/>
<path d="M417.40 699.20 V828.30 H516.80" fill="none" stroke="#222" stroke-width="1.3"/>
<line x1="412.10" y1="828.30" x2="417.40" y2="828.30" stroke="#222" stroke-width="1.3"/>
<text x="412.00" y="832.80" font-size="13" text-anchor="end" fill="#0e0e0e" style="">0</text>
<line x1="412.10" y1="806.78" x2="417.40" y2="806.78" stroke="#222" stroke-width="1.3"/>
<text x="412.00" y="811.28" font-size="13" text-anchor="end" fill="#0e0e0e" style="">100</text>
<line x1="412.10" y1="785.27" x2="417.40" y2="785.27" stroke="#222" stroke-width="1.3"/>
<text x="412.00" y="789.77" font-size="13" text-anchor="end" fill="#0e0e0e" style="">200</text>
<line x1="412.10" y1="763.75" x2="417.40" y2="763.75" stroke="#222" stroke-width="1.3"/>
<text x="412.00" y="768.25" font-size="13" text-anchor="end" fill="#0e0e0e" style="">300</text>
<line x1="412.10" y1="742.23" x2="417.40" y2="742.23" stroke="#222" stroke-width="1.3"/>
<text x="412.00" y="746.73" font-size="13" text-anchor="end" fill="#0e0e0e" style="">400</text>
<line x1="412.10" y1="720.72" x2="417.40" y2="720.72" stroke="#222" stroke-width="1.3"/>
<text x="412.00" y="725.22" font-size="13" text-anchor="end" fill="#0e0e0e" style="">500</text>
<line x1="412.10" y1="699.20" x2="417.40" y2="699.20" stroke="#222" stroke-width="1.3"/>
<text x="412.00" y="703.70" font-size="13" text-anchor="end" fill="#0e0e0e" style="">600</text>
<line x1="445.60" y1="828.30" x2="445.60" y2="833.80" stroke="#222" stroke-width="1.3"/>
<line x1="488.10" y1="828.30" x2="488.10" y2="833.80" stroke="#222" stroke-width="1.3"/>
<text x="444.50" y="845.20" font-size="12.8" text-anchor="middle" fill="#0e0e0e" style="">Wildtype</text>
<text x="477.20" y="846.70" font-size="12.8" text-anchor="start" fill="#0e0e0e" style="font-style:italic">Fgf7<tspan font-size="7.94" dy="-4.86">-/-</tspan></text>
<line x1="444.20" y1="697.90" x2="484.50" y2="697.90" stroke="#222" stroke-width="1.5"/>
<polygon points="460.90,689.80 461.52,691.35 463.18,691.46 461.90,692.52 462.31,694.14 460.90,693.25 459.49,694.14 459.90,692.52 458.62,691.46 460.28,691.35" fill="#111"/>
<polygon points="465.70,689.80 466.32,691.35 467.98,691.46 466.70,692.52 467.11,694.14 465.70,693.25 464.29,694.14 464.70,692.52 463.42,691.46 465.08,691.35" fill="#111"/>
<polygon points="470.50,689.80 471.12,691.35 472.78,691.46 471.50,692.52 471.91,694.14 470.50,693.25 469.09,694.14 469.50,692.52 468.22,691.46 469.88,691.35" fill="#111"/>
<text x="383.20" y="763.00" font-size="12.7" text-anchor="middle" fill="#0e0e0e" style="" transform="rotate(-90 383.2 763)">Time to exhaustion(sec)</text>
<text x="463.50" y="679.40" font-size="12.5" text-anchor="middle" fill="#0e0e0e" style="">P21</text>
<path d="M599.50 827.60 V737.30 H625.30 V827.60" fill="none" stroke="#111" stroke-width="1.6"/>
<path d="M641.90 827.60 V772.40 H667.70 V827.60" fill="none" stroke="#e8453a" stroke-width="1.6"/>
<circle cx="600.70" cy="729.40" r="2.55" fill="#111"/>
<circle cx="600.70" cy="734.90" r="2.55" fill="#111"/>
<circle cx="605.40" cy="737.60" r="2.55" fill="#111"/>
<circle cx="609.80" cy="732.90" r="2.55" fill="#111"/>
<circle cx="614.70" cy="731.10" r="2.55" fill="#111"/>
<circle cx="619.40" cy="734.60" r="2.55" fill="#111"/>
<circle cx="624.10" cy="733.80" r="2.55" fill="#111"/>
<circle cx="614.70" cy="737.00" r="2.55" fill="#111"/>
<circle cx="619.40" cy="741.70" r="2.55" fill="#111"/>
<circle cx="614.70" cy="744.30" r="2.55" fill="#111"/>
<circle cx="605.40" cy="746.30" r="2.55" fill="#111"/>
<circle cx="643.30" cy="762.50" r="2.55" fill="#e8453a"/>
<circle cx="650.90" cy="764.80" r="2.55" fill="#e8453a"/>
<circle cx="658.80" cy="761.30" r="2.55" fill="#e8453a"/>
<circle cx="666.70" cy="767.80" r="2.55" fill="#e8453a"/>
<circle cx="643.30" cy="769.20" r="2.55" fill="#e8453a"/>
<circle cx="650.90" cy="773.00" r="2.55" fill="#e8453a"/>
<circle cx="658.80" cy="774.50" r="2.55" fill="#e8453a"/>
<circle cx="643.30" cy="775.90" r="2.55" fill="#e8453a"/>
<circle cx="666.70" cy="778.30" r="2.55" fill="#e8453a"/>
<circle cx="643.30" cy="781.50" r="2.55" fill="#e8453a"/>
<circle cx="658.80" cy="781.20" r="2.55" fill="#e8453a"/>
<line x1="612.40" y1="731.50" x2="612.40" y2="741.80" stroke="#111" stroke-width="1.3"/>
<line x1="605.50" y1="731.50" x2="619.30" y2="731.50" stroke="#111" stroke-width="1.3"/>
<line x1="605.50" y1="741.80" x2="619.30" y2="741.80" stroke="#111" stroke-width="1.3"/>
<line x1="654.80" y1="764.60" x2="654.80" y2="779.20" stroke="#e8453a" stroke-width="1.3"/>
<line x1="647.90" y1="764.60" x2="661.70" y2="764.60" stroke="#e8453a" stroke-width="1.3"/>
<line x1="647.90" y1="779.20" x2="661.70" y2="779.20" stroke="#e8453a" stroke-width="1.3"/>
<path d="M583.30 699.40 V827.60 H684.80" fill="none" stroke="#222" stroke-width="1.3"/>
<line x1="578.00" y1="827.60" x2="583.30" y2="827.60" stroke="#222" stroke-width="1.3"/>
<text x="577.90" y="832.10" font-size="13" text-anchor="end" fill="#0e0e0e" style="">0</text>
<line x1="578.00" y1="795.55" x2="583.30" y2="795.55" stroke="#222" stroke-width="1.3"/>
<text x="577.90" y="800.05" font-size="13" text-anchor="end" fill="#0e0e0e" style="">500</text>
<line x1="578.00" y1="763.50" x2="583.30" y2="763.50" stroke="#222" stroke-width="1.3"/>
<text x="577.90" y="768.00" font-size="13" text-anchor="end" fill="#0e0e0e" style="">1000</text>
<line x1="578.00" y1="731.45" x2="583.30" y2="731.45" stroke="#222" stroke-width="1.3"/>
<text x="577.90" y="735.95" font-size="13" text-anchor="end" fill="#0e0e0e" style="">1500</text>
<line x1="578.00" y1="699.40" x2="583.30" y2="699.40" stroke="#222" stroke-width="1.3"/>
<text x="577.90" y="703.90" font-size="13" text-anchor="end" fill="#0e0e0e" style="">2000</text>
<line x1="612.40" y1="827.60" x2="612.40" y2="833.10" stroke="#222" stroke-width="1.3"/>
<line x1="654.80" y1="827.60" x2="654.80" y2="833.10" stroke="#222" stroke-width="1.3"/>
<text x="609.20" y="845.50" font-size="12.8" text-anchor="middle" fill="#0e0e0e" style="">Wildtype</text>
<text x="643.00" y="847.00" font-size="12.8" text-anchor="start" fill="#0e0e0e" style="font-style:italic">Fgf7<tspan font-size="7.94" dy="-4.86">-/-</tspan></text>
<line x1="615.90" y1="700.30" x2="656.60" y2="700.30" stroke="#222" stroke-width="1.5"/>
<polygon points="634.10,689.70 634.72,691.25 636.38,691.36 635.10,692.42 635.51,694.04 634.10,693.15 632.69,694.04 633.10,692.42 631.82,691.36 633.48,691.25" fill="#111"/>
<polygon points="638.90,689.70 639.52,691.25 641.18,691.36 639.90,692.42 640.31,694.04 638.90,693.15 637.49,694.04 637.90,692.42 636.62,691.36 638.28,691.25" fill="#111"/>
<polygon points="643.70,689.70 644.32,691.25 645.98,691.36 644.70,692.42 645.11,694.04 643.70,693.15 642.29,694.04 642.70,692.42 641.42,691.36 643.08,691.25" fill="#111"/>
<text x="543.00" y="763.00" font-size="12.7" text-anchor="middle" fill="#0e0e0e" style="" transform="rotate(-90 543 763)">Time to exhaustion(sec)</text>
<text x="629.50" y="678.90" font-size="12.5" text-anchor="middle" fill="#0e0e0e" style="">10W</text>
</svg>
</body></html>
